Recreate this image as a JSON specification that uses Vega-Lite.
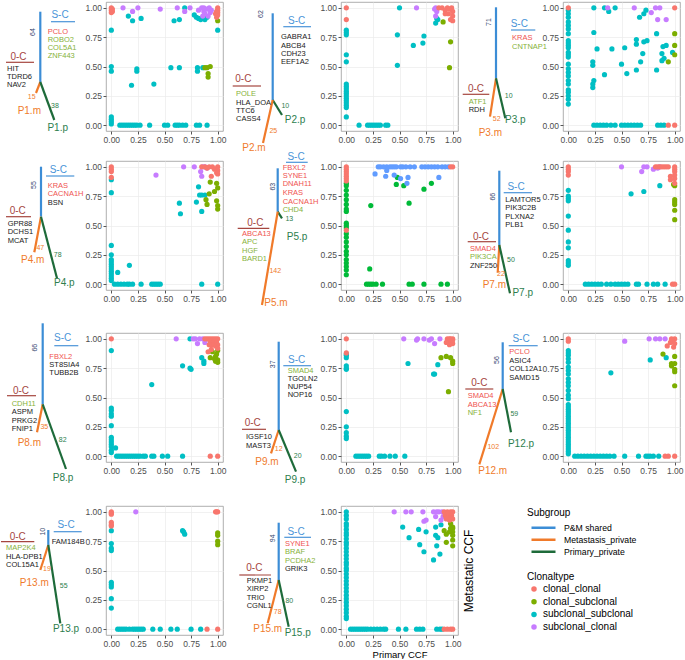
{
"$schema":"https://vega.github.io/schema/vega-lite/v6.json",
"padding":{"left":0,"top":1,"right":0,"bottom":0},
"autosize":{"type":"pad"},
"columns":6,"align":"each","bounds":"flush","spacing":{"row":30,"column":0},
"resolve":{"scale":{"fill":"independent","stroke":"independent"}},
"datasets":{
"pts":[
{"p":"P1","t":"subclonal_subclonal","x":0,"y":0.81},{"p":"P1","t":"subclonal_subclonal","x":0.16,"y":0.93},{"p":"P1","t":"subclonal_subclonal","x":0.2,"y":0.89},{"p":"P1","t":"subclonal_subclonal","x":0.28,"y":0.91},{"p":"P1","t":"subclonal_subclonal","x":0.59,"y":0.89},{"p":"P1","t":"subclonal_subclonal","x":0.64,"y":0.9},{"p":"P1","t":"subclonal_subclonal","x":0.69,"y":1},{"p":"P1","t":"subclonal_subclonal","x":0.78,"y":0.94},{"p":"P1","t":"subclonal_subclonal","x":0.8,"y":0.92},{"p":"P1","t":"subclonal_subclonal","x":0.82,"y":0.91},{"p":"P1","t":"subclonal_subclonal","x":0.84,"y":0.9},{"p":"P1","t":"subclonal_subclonal","x":0.88,"y":0.9},{"p":"P1","t":"subclonal_subclonal","x":0.86,"y":0.92},{"p":"P1","t":"subclonal_subclonal","x":0.9,"y":0.92},{"p":"P1","t":"subclonal_subclonal","x":1,"y":0.81},{"p":"P1","t":"subclonal_subclonal","x":0,"y":0.5},{"p":"P1","t":"subclonal_subclonal","x":0,"y":0.46},{"p":"P1","t":"subclonal_subclonal","x":0.24,"y":0.48},{"p":"P1","t":"subclonal_subclonal","x":0.24,"y":0.46},{"p":"P1","t":"subclonal_subclonal","x":0.56,"y":0.49},{"p":"P1","t":"subclonal_subclonal","x":0.64,"y":0.49},{"p":"P1","t":"subclonal_subclonal","x":0.81,"y":0.49},{"p":"P1","t":"subclonal_subclonal","x":0.81,"y":0.46},{"p":"P1","t":"subclonal_subclonal","x":0.86,"y":0.49},{"p":"P1","t":"subclonal_subclonal","x":0.19,"y":0.34},{"p":"P1","t":"subclonal_subclonal","x":0.4,"y":0.35},{"p":"P1","t":"subclonal_subclonal","x":0,"y":0.07},{"p":"P1","t":"subclonal_subclonal","x":0,"y":0.05},{"p":"P1","t":"subclonal_subclonal","x":0,"y":0.03},{"p":"P1","t":"subclonal_subclonal","x":0,"y":0.01},{"p":"P1","t":"subclonal_subclonal","x":0.08,"y":0},{"p":"P1","t":"subclonal_subclonal","x":0.1,"y":0},{"p":"P1","t":"subclonal_subclonal","x":0.12,"y":0},{"p":"P1","t":"subclonal_subclonal","x":0.14,"y":0},{"p":"P1","t":"subclonal_subclonal","x":0.16,"y":0},{"p":"P1","t":"subclonal_subclonal","x":0.18,"y":0},{"p":"P1","t":"subclonal_subclonal","x":0.2,"y":0},{"p":"P1","t":"subclonal_subclonal","x":0.22,"y":0},{"p":"P1","t":"subclonal_subclonal","x":0.24,"y":0},{"p":"P1","t":"subclonal_subclonal","x":0.27,"y":0},{"p":"P1","t":"subclonal_subclonal","x":0.36,"y":0},{"p":"P1","t":"subclonal_subclonal","x":0.5,"y":0},{"p":"P1","t":"subclonal_subclonal","x":0.53,"y":0},{"p":"P1","t":"subclonal_subclonal","x":0.6,"y":0},{"p":"P1","t":"subclonal_subclonal","x":0.62,"y":0},{"p":"P1","t":"subclonal_subclonal","x":0.64,"y":0},{"p":"P1","t":"subclonal_subclonal","x":0.67,"y":0},{"p":"P1","t":"subclonal_subclonal","x":0.7,"y":0},{"p":"P1","t":"subclonal_subclonal","x":0.8,"y":0},{"p":"P1","t":"subclonal_subclonal","x":0.83,"y":0},{"p":"P1","t":"subclonal_subclonal","x":0.9,"y":0},
{"p":"P1","t":"subclonal_clonal","x":0.11,"y":1},{"p":"P1","t":"subclonal_clonal","x":0.2,"y":0.97},{"p":"P1","t":"subclonal_clonal","x":0.25,"y":1},{"p":"P1","t":"subclonal_clonal","x":0.46,"y":0.99},{"p":"P1","t":"subclonal_clonal","x":0.62,"y":1},{"p":"P1","t":"subclonal_clonal","x":0.69,"y":0.97},{"p":"P1","t":"subclonal_clonal","x":0.74,"y":1},{"p":"P1","t":"subclonal_clonal","x":0.82,"y":0.98},{"p":"P1","t":"subclonal_clonal","x":0.85,"y":1},{"p":"P1","t":"subclonal_clonal","x":0.87,"y":0.97},{"p":"P1","t":"subclonal_clonal","x":0.88,"y":0.95},{"p":"P1","t":"subclonal_clonal","x":0.9,"y":0.99},{"p":"P1","t":"subclonal_clonal","x":0.92,"y":1},{"p":"P1","t":"subclonal_clonal","x":0.93,"y":0.96},{"p":"P1","t":"subclonal_clonal","x":0.94,"y":0.98},{"p":"P1","t":"subclonal_clonal","x":0.91,"y":0.93},{"p":"P1","t":"subclonal_clonal","x":0.86,"y":0.93},{"p":"P1","t":"subclonal_clonal","x":0.87,"y":1},
{"p":"P1","t":"clonal_subclonal","x":1,"y":0.89},{"p":"P1","t":"clonal_subclonal","x":0.88,"y":0.49},{"p":"P1","t":"clonal_subclonal","x":0.9,"y":0.49},{"p":"P1","t":"clonal_subclonal","x":0.91,"y":0.44},{"p":"P1","t":"clonal_subclonal","x":0.91,"y":0.41},{"p":"P1","t":"clonal_subclonal","x":0.93,"y":0.5},
{"p":"P1","t":"clonal_clonal","x":0,"y":1},{"p":"P1","t":"clonal_clonal","x":0,"y":0.98},{"p":"P1","t":"clonal_clonal","x":0,"y":0.96},{"p":"P1","t":"clonal_clonal","x":0.01,"y":0.99},{"p":"P1","t":"clonal_clonal","x":0.01,"y":0.97},{"p":"P1","t":"clonal_clonal","x":1,"y":1},{"p":"P1","t":"clonal_clonal","x":1,"y":0.98},{"p":"P1","t":"clonal_clonal","x":1,"y":0.96},{"p":"P1","t":"clonal_clonal","x":1,"y":0.94},{"p":"P1","t":"clonal_clonal","x":0.99,"y":0.92},{"p":"P1","t":"clonal_clonal","x":0.98,"y":0.95},{"p":"P1","t":"clonal_clonal","x":0.99,"y":0.97},
{"p":"P2","t":"subclonal_subclonal","x":0.5,"y":1},{"p":"P2","t":"subclonal_subclonal","x":0,"y":0.81},{"p":"P2","t":"subclonal_subclonal","x":0,"y":0.79},{"p":"P2","t":"subclonal_subclonal","x":0,"y":0.77},{"p":"P2","t":"subclonal_subclonal","x":0,"y":0.6},{"p":"P2","t":"subclonal_subclonal","x":0,"y":0.54},{"p":"P2","t":"subclonal_subclonal","x":0,"y":0.35},{"p":"P2","t":"subclonal_subclonal","x":0,"y":0.33},{"p":"P2","t":"subclonal_subclonal","x":0,"y":0.31},{"p":"P2","t":"subclonal_subclonal","x":0,"y":0.29},{"p":"P2","t":"subclonal_subclonal","x":0,"y":0.27},{"p":"P2","t":"subclonal_subclonal","x":0,"y":0.25},{"p":"P2","t":"subclonal_subclonal","x":0,"y":0.23},{"p":"P2","t":"subclonal_subclonal","x":0,"y":0.21},{"p":"P2","t":"subclonal_subclonal","x":0,"y":0.19},{"p":"P2","t":"subclonal_subclonal","x":0,"y":0.17},{"p":"P2","t":"subclonal_subclonal","x":0,"y":0.15},{"p":"P2","t":"subclonal_subclonal","x":0,"y":0.07},{"p":"P2","t":"subclonal_subclonal","x":0.48,"y":0.77},{"p":"P2","t":"subclonal_subclonal","x":0.48,"y":0.51},{"p":"P2","t":"subclonal_subclonal","x":0.63,"y":0.68},{"p":"P2","t":"subclonal_subclonal","x":0.72,"y":0.7},{"p":"P2","t":"subclonal_subclonal","x":0.73,"y":0.76},{"p":"P2","t":"subclonal_subclonal","x":0.84,"y":0.87},{"p":"P2","t":"subclonal_subclonal","x":0.85,"y":0.91},{"p":"P2","t":"subclonal_subclonal","x":0.86,"y":0.9},{"p":"P2","t":"subclonal_subclonal","x":0.12,"y":0},{"p":"P2","t":"subclonal_subclonal","x":0.2,"y":0},{"p":"P2","t":"subclonal_subclonal","x":0.22,"y":0},{"p":"P2","t":"subclonal_subclonal","x":0.24,"y":0},{"p":"P2","t":"subclonal_subclonal","x":0.26,"y":0},{"p":"P2","t":"subclonal_subclonal","x":0.28,"y":0},{"p":"P2","t":"subclonal_subclonal","x":0.3,"y":0},{"p":"P2","t":"subclonal_subclonal","x":0.32,"y":0},{"p":"P2","t":"subclonal_subclonal","x":0.37,"y":0},{"p":"P2","t":"subclonal_subclonal","x":0.39,"y":0},
{"p":"P2","t":"subclonal_clonal","x":0.66,"y":1},{"p":"P2","t":"subclonal_clonal","x":0.83,"y":0.99},{"p":"P2","t":"subclonal_clonal","x":0.84,"y":1},{"p":"P2","t":"subclonal_clonal","x":0.84,"y":0.93},{"p":"P2","t":"subclonal_clonal","x":0.85,"y":0.97},
{"p":"P2","t":"clonal_subclonal","x":0.91,"y":0.88},{"p":"P2","t":"clonal_subclonal","x":0.98,"y":0.71},{"p":"P2","t":"clonal_subclonal","x":0.97,"y":0.49},
{"p":"P2","t":"clonal_clonal","x":0,"y":1},{"p":"P2","t":"clonal_clonal","x":0,"y":0.9},{"p":"P2","t":"clonal_clonal","x":0.87,"y":1},{"p":"P2","t":"clonal_clonal","x":0.9,"y":1},{"p":"P2","t":"clonal_clonal","x":0.93,"y":0.98},{"p":"P2","t":"clonal_clonal","x":0.95,"y":1},{"p":"P2","t":"clonal_clonal","x":0.97,"y":0.99},{"p":"P2","t":"clonal_clonal","x":0.99,"y":1},{"p":"P2","t":"clonal_clonal","x":1,"y":0.97},{"p":"P2","t":"clonal_clonal","x":0.96,"y":0.95},{"p":"P2","t":"clonal_clonal","x":1,"y":0.93},{"p":"P2","t":"clonal_clonal","x":0.98,"y":0.9},{"p":"P2","t":"clonal_clonal","x":0.93,"y":0.95},{"p":"P2","t":"clonal_clonal","x":1,"y":0.89},
{"p":"P3","t":"subclonal_subclonal","x":0,"y":0.98},{"p":"P3","t":"subclonal_subclonal","x":0,"y":0.95},{"p":"P3","t":"subclonal_subclonal","x":0,"y":0.92},{"p":"P3","t":"subclonal_subclonal","x":0,"y":0.88},{"p":"P3","t":"subclonal_subclonal","x":0,"y":0.85},{"p":"P3","t":"subclonal_subclonal","x":0,"y":0.82},{"p":"P3","t":"subclonal_subclonal","x":0,"y":0.78},{"p":"P3","t":"subclonal_subclonal","x":0,"y":0.72},{"p":"P3","t":"subclonal_subclonal","x":0,"y":0.7},{"p":"P3","t":"subclonal_subclonal","x":0,"y":0.68},{"p":"P3","t":"subclonal_subclonal","x":0,"y":0.66},{"p":"P3","t":"subclonal_subclonal","x":0,"y":0.62},{"p":"P3","t":"subclonal_subclonal","x":0,"y":0.6},{"p":"P3","t":"subclonal_subclonal","x":0,"y":0.58},{"p":"P3","t":"subclonal_subclonal","x":0,"y":0.52},{"p":"P3","t":"subclonal_subclonal","x":0,"y":0.48},{"p":"P3","t":"subclonal_subclonal","x":0,"y":0.45},{"p":"P3","t":"subclonal_subclonal","x":0,"y":0.42},{"p":"P3","t":"subclonal_subclonal","x":0,"y":0.38},{"p":"P3","t":"subclonal_subclonal","x":0,"y":0.35},{"p":"P3","t":"subclonal_subclonal","x":0,"y":0.3},{"p":"P3","t":"subclonal_subclonal","x":0,"y":0.28},{"p":"P3","t":"subclonal_subclonal","x":0,"y":0.25},{"p":"P3","t":"subclonal_subclonal","x":0,"y":0.22},{"p":"P3","t":"subclonal_subclonal","x":0,"y":0.18},
{"p":"P3","t":"subclonal_subclonal","x":0.24,"y":1},{"p":"P3","t":"subclonal_subclonal","x":0.34,"y":1},{"p":"P3","t":"subclonal_subclonal","x":0.38,"y":0.97},{"p":"P3","t":"subclonal_subclonal","x":0.44,"y":1},{"p":"P3","t":"subclonal_subclonal","x":0.24,"y":0.79},{"p":"P3","t":"subclonal_subclonal","x":0.27,"y":0.65},{"p":"P3","t":"subclonal_subclonal","x":0.41,"y":0.65},{"p":"P3","t":"subclonal_subclonal","x":0.23,"y":0.54},{"p":"P3","t":"subclonal_subclonal","x":0.23,"y":0.51},{"p":"P3","t":"subclonal_subclonal","x":0.24,"y":0.38},{"p":"P3","t":"subclonal_subclonal","x":0.23,"y":0.35},{"p":"P3","t":"subclonal_subclonal","x":0.23,"y":0.32},{"p":"P3","t":"subclonal_subclonal","x":0.34,"y":0.43},{"p":"P3","t":"subclonal_subclonal","x":0.5,"y":0.52},{"p":"P3","t":"subclonal_subclonal","x":0.53,"y":0.66},{"p":"P3","t":"subclonal_subclonal","x":0.55,"y":0.44},{"p":"P3","t":"subclonal_subclonal","x":0.64,"y":0.73},{"p":"P3","t":"subclonal_subclonal","x":0.64,"y":0.69},{"p":"P3","t":"subclonal_subclonal","x":0.64,"y":0.47},{"p":"P3","t":"subclonal_subclonal","x":0.68,"y":0.54},{"p":"P3","t":"subclonal_subclonal","x":0.7,"y":0.61},{"p":"P3","t":"subclonal_subclonal","x":0.71,"y":0.71},{"p":"P3","t":"subclonal_subclonal","x":0.74,"y":0.72},{"p":"P3","t":"subclonal_subclonal","x":0.67,"y":0.92},{"p":"P3","t":"subclonal_subclonal","x":0.71,"y":0.95},{"p":"P3","t":"subclonal_subclonal","x":0.73,"y":0.98},{"p":"P3","t":"subclonal_subclonal","x":0.83,"y":0.78},{"p":"P3","t":"subclonal_subclonal","x":0.83,"y":0.47},{"p":"P3","t":"subclonal_subclonal","x":0.88,"y":0.61},{"p":"P3","t":"subclonal_subclonal","x":0.89,"y":0.67},{"p":"P3","t":"subclonal_subclonal","x":0.92,"y":0.68},{"p":"P3","t":"subclonal_subclonal","x":0.88,"y":0.55},{"p":"P3","t":"subclonal_subclonal","x":0.9,"y":0.57},{"p":"P3","t":"subclonal_subclonal","x":0.98,"y":0.62},
{"p":"P3","t":"subclonal_subclonal","x":0.24,"y":0},{"p":"P3","t":"subclonal_subclonal","x":0.27,"y":0},{"p":"P3","t":"subclonal_subclonal","x":0.3,"y":0},{"p":"P3","t":"subclonal_subclonal","x":0.33,"y":0},{"p":"P3","t":"subclonal_subclonal","x":0.36,"y":0},{"p":"P3","t":"subclonal_subclonal","x":0.4,"y":0},{"p":"P3","t":"subclonal_subclonal","x":0.44,"y":0},{"p":"P3","t":"subclonal_subclonal","x":0.5,"y":0},{"p":"P3","t":"subclonal_subclonal","x":0.53,"y":0},{"p":"P3","t":"subclonal_subclonal","x":0.56,"y":0},{"p":"P3","t":"subclonal_subclonal","x":0.59,"y":0},{"p":"P3","t":"subclonal_subclonal","x":0.62,"y":0},{"p":"P3","t":"subclonal_subclonal","x":0.65,"y":0},{"p":"P3","t":"subclonal_subclonal","x":0.68,"y":0},{"p":"P3","t":"subclonal_subclonal","x":0.84,"y":0},{"p":"P3","t":"subclonal_subclonal","x":0.87,"y":0},{"p":"P3","t":"subclonal_subclonal","x":0.9,"y":0},
{"p":"P3","t":"subclonal_clonal","x":0.37,"y":1},{"p":"P3","t":"subclonal_clonal","x":0.62,"y":1},{"p":"P3","t":"subclonal_clonal","x":0.82,"y":1},{"p":"P3","t":"subclonal_clonal","x":0.86,"y":1},{"p":"P3","t":"subclonal_clonal","x":0.78,"y":0.96},{"p":"P3","t":"subclonal_clonal","x":0.84,"y":0.9},{"p":"P3","t":"subclonal_clonal","x":0.92,"y":0.9},
{"p":"P3","t":"clonal_subclonal","x":1,"y":0.78},{"p":"P3","t":"clonal_subclonal","x":1,"y":0.68},{"p":"P3","t":"clonal_subclonal","x":1,"y":0.6},{"p":"P3","t":"clonal_subclonal","x":0.94,"y":0.54},
{"p":"P3","t":"clonal_clonal","x":0,"y":1},{"p":"P3","t":"clonal_clonal","x":1,"y":1},{"p":"P3","t":"clonal_clonal","x":0.94,"y":0},{"p":"P3","t":"clonal_clonal","x":1,"y":0},
{"p":"P4","t":"subclonal_subclonal","x":0,"y":0.89},{"p":"P4","t":"subclonal_subclonal","x":0,"y":0.78},{"p":"P4","t":"subclonal_subclonal","x":0.82,"y":0.83},{"p":"P4","t":"subclonal_subclonal","x":0.83,"y":0.76},{"p":"P4","t":"subclonal_subclonal","x":0.85,"y":0.76},{"p":"P4","t":"subclonal_subclonal","x":0.88,"y":0.76},{"p":"P4","t":"subclonal_subclonal","x":0.8,"y":0.7},{"p":"P4","t":"subclonal_subclonal","x":0.64,"y":0.69},{"p":"P4","t":"subclonal_subclonal","x":0.65,"y":0.6},{"p":"P4","t":"subclonal_subclonal","x":0.85,"y":0.62},{"p":"P4","t":"subclonal_subclonal","x":0,"y":0.33},{"p":"P4","t":"subclonal_subclonal","x":0,"y":0.25},{"p":"P4","t":"subclonal_subclonal","x":0,"y":0.21},{"p":"P4","t":"subclonal_subclonal","x":0,"y":0.19},{"p":"P4","t":"subclonal_subclonal","x":0,"y":0.17},{"p":"P4","t":"subclonal_subclonal","x":0,"y":0.15},{"p":"P4","t":"subclonal_subclonal","x":0,"y":0.13},{"p":"P4","t":"subclonal_subclonal","x":0,"y":0.11},{"p":"P4","t":"subclonal_subclonal","x":0,"y":0.09},{"p":"P4","t":"subclonal_subclonal","x":0,"y":0.07},{"p":"P4","t":"subclonal_subclonal","x":0,"y":0.05},{"p":"P4","t":"subclonal_subclonal","x":0,"y":0.03},{"p":"P4","t":"subclonal_subclonal","x":0.06,"y":0.1},{"p":"P4","t":"subclonal_subclonal","x":0.17,"y":0.16},{"p":"P4","t":"subclonal_subclonal","x":0.03,"y":0},{"p":"P4","t":"subclonal_subclonal","x":0.06,"y":0},{"p":"P4","t":"subclonal_subclonal","x":0.09,"y":0},{"p":"P4","t":"subclonal_subclonal","x":0.12,"y":0},{"p":"P4","t":"subclonal_subclonal","x":0.15,"y":0},{"p":"P4","t":"subclonal_subclonal","x":0.17,"y":0},{"p":"P4","t":"subclonal_subclonal","x":0.2,"y":0},{"p":"P4","t":"subclonal_subclonal","x":0.28,"y":0},{"p":"P4","t":"subclonal_subclonal","x":0.38,"y":0},{"p":"P4","t":"subclonal_subclonal","x":0.4,"y":0},{"p":"P4","t":"subclonal_subclonal","x":0.42,"y":0},{"p":"P4","t":"subclonal_subclonal","x":0.44,"y":0},{"p":"P4","t":"subclonal_subclonal","x":0.46,"y":0},{"p":"P4","t":"subclonal_subclonal","x":0.85,"y":0},{"p":"P4","t":"subclonal_subclonal","x":1,"y":0},
{"p":"P4","t":"subclonal_clonal","x":0.42,"y":0.93},{"p":"P4","t":"subclonal_clonal","x":0.68,"y":1},{"p":"P4","t":"subclonal_clonal","x":0.78,"y":1},{"p":"P4","t":"subclonal_clonal","x":0.86,"y":1},{"p":"P4","t":"subclonal_clonal","x":0.88,"y":1},{"p":"P4","t":"subclonal_clonal","x":0.84,"y":0.96},{"p":"P4","t":"subclonal_clonal","x":0.85,"y":0.92},{"p":"P4","t":"subclonal_clonal","x":0.9,"y":0.99},
{"p":"P4","t":"clonal_subclonal","x":0.93,"y":0.87},{"p":"P4","t":"clonal_subclonal","x":0.99,"y":0.86},{"p":"P4","t":"clonal_subclonal","x":1,"y":0.82},{"p":"P4","t":"clonal_subclonal","x":0.99,"y":0.71},{"p":"P4","t":"clonal_subclonal","x":0.97,"y":0.79},{"p":"P4","t":"clonal_subclonal","x":0.92,"y":0.77},{"p":"P4","t":"clonal_subclonal","x":0.89,"y":0.72},{"p":"P4","t":"clonal_subclonal","x":0.9,"y":0.68},{"p":"P4","t":"clonal_subclonal","x":1,"y":0.67},{"p":"P4","t":"clonal_subclonal","x":1,"y":0.64},
{"p":"P4","t":"clonal_clonal","x":0,"y":1},{"p":"P4","t":"clonal_clonal","x":0,"y":0.98},{"p":"P4","t":"clonal_clonal","x":0,"y":0.96},{"p":"P4","t":"clonal_clonal","x":0,"y":0.91},{"p":"P4","t":"clonal_clonal","x":0.85,"y":1},{"p":"P4","t":"clonal_clonal","x":0.88,"y":1},{"p":"P4","t":"clonal_clonal","x":0.9,"y":0.99},{"p":"P4","t":"clonal_clonal","x":0.92,"y":1},{"p":"P4","t":"clonal_clonal","x":0.95,"y":1},{"p":"P4","t":"clonal_clonal","x":0.97,"y":0.98},{"p":"P4","t":"clonal_clonal","x":1,"y":1},{"p":"P4","t":"clonal_clonal","x":1,"y":0.97},{"p":"P4","t":"clonal_clonal","x":1,"y":0.94},{"p":"P4","t":"clonal_clonal","x":0.99,"y":0.95},{"p":"P4","t":"clonal_clonal","x":0.94,"y":0.92},
{"p":"P5","t":"subclonal_subclonal","x":0,"y":0.86},{"p":"P5","t":"subclonal_subclonal","x":0,"y":0.84},{"p":"P5","t":"subclonal_subclonal","x":0,"y":0.8},{"p":"P5","t":"subclonal_subclonal","x":0,"y":0.76},{"p":"P5","t":"subclonal_subclonal","x":0,"y":0.72},{"p":"P5","t":"subclonal_subclonal","x":0,"y":0.68},{"p":"P5","t":"subclonal_subclonal","x":0,"y":0.64},{"p":"P5","t":"subclonal_subclonal","x":0,"y":0.62},{"p":"P5","t":"subclonal_subclonal","x":0,"y":0.52},{"p":"P5","t":"subclonal_subclonal","x":0,"y":0.5},{"p":"P5","t":"subclonal_subclonal","x":0,"y":0.48},{"p":"P5","t":"subclonal_subclonal","x":0,"y":0.43},{"p":"P5","t":"subclonal_subclonal","x":0,"y":0.4},{"p":"P5","t":"subclonal_subclonal","x":0,"y":0.36},{"p":"P5","t":"subclonal_subclonal","x":0,"y":0.32},{"p":"P5","t":"subclonal_subclonal","x":0,"y":0.28},{"p":"P5","t":"subclonal_subclonal","x":0,"y":0.25},{"p":"P5","t":"subclonal_subclonal","x":0,"y":0.21},{"p":"P5","t":"subclonal_subclonal","x":0,"y":0.18},{"p":"P5","t":"subclonal_subclonal","x":0,"y":0.15},{"p":"P5","t":"subclonal_subclonal","x":0,"y":0.12},{"p":"P5","t":"subclonal_subclonal","x":0,"y":0.08},{"p":"P5","t":"subclonal_subclonal","x":0.23,"y":0.67},{"p":"P5","t":"subclonal_subclonal","x":0.22,"y":0.13},{"p":"P5","t":"subclonal_subclonal","x":0.48,"y":0.91},{"p":"P5","t":"subclonal_subclonal","x":0.47,"y":0.85},{"p":"P5","t":"subclonal_subclonal","x":0.54,"y":0.84},{"p":"P5","t":"subclonal_subclonal","x":0.59,"y":0.69},{"p":"P5","t":"subclonal_subclonal","x":0.73,"y":0.81},{"p":"P5","t":"subclonal_subclonal","x":0.8,"y":0.86},{"p":"P5","t":"subclonal_subclonal","x":0.19,"y":0},{"p":"P5","t":"subclonal_subclonal","x":0.21,"y":0},{"p":"P5","t":"subclonal_subclonal","x":0.23,"y":0},{"p":"P5","t":"subclonal_subclonal","x":0.25,"y":0},{"p":"P5","t":"subclonal_subclonal","x":0.28,"y":0},{"p":"P5","t":"subclonal_subclonal","x":0.34,"y":0},{"p":"P5","t":"subclonal_subclonal","x":0.59,"y":0},{"p":"P5","t":"subclonal_subclonal","x":0.62,"y":0},{"p":"P5","t":"subclonal_subclonal","x":0.73,"y":0},{"p":"P5","t":"subclonal_subclonal","x":0.89,"y":0},{"p":"P5","t":"subclonal_subclonal","x":0.95,"y":0},
{"p":"P5","t":"subclonal_clonal","x":0.3,"y":1},{"p":"P5","t":"subclonal_clonal","x":0.32,"y":1},{"p":"P5","t":"subclonal_clonal","x":0.35,"y":1},{"p":"P5","t":"subclonal_clonal","x":0.38,"y":1},{"p":"P5","t":"subclonal_clonal","x":0.41,"y":1},{"p":"P5","t":"subclonal_clonal","x":0.43,"y":1},{"p":"P5","t":"subclonal_clonal","x":0.45,"y":1},{"p":"P5","t":"subclonal_clonal","x":0.47,"y":1},{"p":"P5","t":"subclonal_clonal","x":0.51,"y":1},{"p":"P5","t":"subclonal_clonal","x":0.53,"y":1},{"p":"P5","t":"subclonal_clonal","x":0.56,"y":1},{"p":"P5","t":"subclonal_clonal","x":0.6,"y":1},{"p":"P5","t":"subclonal_clonal","x":0.64,"y":1},{"p":"P5","t":"subclonal_clonal","x":0.71,"y":1},{"p":"P5","t":"subclonal_clonal","x":0.74,"y":1},{"p":"P5","t":"subclonal_clonal","x":0.77,"y":1},{"p":"P5","t":"subclonal_clonal","x":0.8,"y":1},{"p":"P5","t":"subclonal_clonal","x":0.83,"y":1},{"p":"P5","t":"subclonal_clonal","x":0.86,"y":1},{"p":"P5","t":"subclonal_clonal","x":0.9,"y":1},{"p":"P5","t":"subclonal_clonal","x":0.93,"y":1},{"p":"P5","t":"subclonal_clonal","x":0.96,"y":1},{"p":"P5","t":"subclonal_clonal","x":0.27,"y":0.94},{"p":"P5","t":"subclonal_clonal","x":0.37,"y":0.92},{"p":"P5","t":"subclonal_clonal","x":0.38,"y":0.97},{"p":"P5","t":"subclonal_clonal","x":0.45,"y":0.93},{"p":"P5","t":"subclonal_clonal","x":0.51,"y":0.9},{"p":"P5","t":"subclonal_clonal","x":0.58,"y":0.91},{"p":"P5","t":"subclonal_clonal","x":0.57,"y":0.86},{"p":"P5","t":"subclonal_clonal","x":0.87,"y":0.91},
{"p":"P5","t":"clonal_clonal","x":0,"y":1},{"p":"P5","t":"clonal_clonal","x":0,"y":0.98},{"p":"P5","t":"clonal_clonal","x":0,"y":0.96},{"p":"P5","t":"clonal_clonal","x":0,"y":0.94},{"p":"P5","t":"clonal_clonal","x":0,"y":0.92},{"p":"P5","t":"clonal_clonal","x":0,"y":0.9},{"p":"P5","t":"clonal_clonal","x":0,"y":0.88},{"p":"P5","t":"clonal_clonal","x":0,"y":0.46},{"p":"P5","t":"clonal_clonal","x":1,"y":1},{"p":"P5","t":"clonal_clonal","x":0.98,"y":1},
{"p":"P7","t":"subclonal_subclonal","x":0,"y":0.8},{"p":"P7","t":"subclonal_subclonal","x":0,"y":0.75},{"p":"P7","t":"subclonal_subclonal","x":0,"y":0.73},{"p":"P7","t":"subclonal_subclonal","x":0,"y":0.71},{"p":"P7","t":"subclonal_subclonal","x":0,"y":0.58},{"p":"P7","t":"subclonal_subclonal","x":0,"y":0.46},{"p":"P7","t":"subclonal_subclonal","x":0,"y":0.36},{"p":"P7","t":"subclonal_subclonal","x":0,"y":0.31},{"p":"P7","t":"subclonal_subclonal","x":0,"y":0.2},{"p":"P7","t":"subclonal_subclonal","x":0,"y":0.18},{"p":"P7","t":"subclonal_subclonal","x":0,"y":0.16},{"p":"P7","t":"subclonal_subclonal","x":0.59,"y":0.77},{"p":"P7","t":"subclonal_subclonal","x":0.71,"y":0.79},{"p":"P7","t":"subclonal_subclonal","x":0.86,"y":0.84},{"p":"P7","t":"subclonal_subclonal","x":0.16,"y":0},{"p":"P7","t":"subclonal_subclonal","x":0.19,"y":0},{"p":"P7","t":"subclonal_subclonal","x":0.22,"y":0},{"p":"P7","t":"subclonal_subclonal","x":0.25,"y":0},{"p":"P7","t":"subclonal_subclonal","x":0.28,"y":0},{"p":"P7","t":"subclonal_subclonal","x":0.31,"y":0},{"p":"P7","t":"subclonal_subclonal","x":0.36,"y":0},{"p":"P7","t":"subclonal_subclonal","x":0.4,"y":0},{"p":"P7","t":"subclonal_subclonal","x":0.44,"y":0},{"p":"P7","t":"subclonal_subclonal","x":0.47,"y":0},{"p":"P7","t":"subclonal_subclonal","x":0.5,"y":0},{"p":"P7","t":"subclonal_subclonal","x":0.53,"y":0},{"p":"P7","t":"subclonal_subclonal","x":0.56,"y":0},{"p":"P7","t":"subclonal_subclonal","x":0.64,"y":0},{"p":"P7","t":"subclonal_subclonal","x":0.66,"y":0},{"p":"P7","t":"subclonal_subclonal","x":0.74,"y":0},{"p":"P7","t":"subclonal_subclonal","x":0.8,"y":0},{"p":"P7","t":"subclonal_subclonal","x":0.84,"y":0},{"p":"P7","t":"subclonal_subclonal","x":0.91,"y":0},
{"p":"P7","t":"subclonal_clonal","x":0.5,"y":1},{"p":"P7","t":"subclonal_clonal","x":0.71,"y":1},{"p":"P7","t":"subclonal_clonal","x":0.74,"y":1},{"p":"P7","t":"subclonal_clonal","x":0.69,"y":0.96},{"p":"P7","t":"subclonal_clonal","x":0.8,"y":0.98},{"p":"P7","t":"subclonal_clonal","x":0.84,"y":0.99},{"p":"P7","t":"subclonal_clonal","x":0.86,"y":1},
{"p":"P7","t":"clonal_subclonal","x":0.99,"y":0.85},{"p":"P7","t":"clonal_subclonal","x":1,"y":0.84},{"p":"P7","t":"clonal_subclonal","x":1,"y":0.72},{"p":"P7","t":"clonal_subclonal","x":1,"y":0.7},{"p":"P7","t":"clonal_subclonal","x":1,"y":0.68},{"p":"P7","t":"clonal_subclonal","x":1,"y":0.63},{"p":"P7","t":"clonal_subclonal","x":1,"y":0.55},
{"p":"P7","t":"clonal_clonal","x":0,"y":1},{"p":"P7","t":"clonal_clonal","x":0,"y":0.98},{"p":"P7","t":"clonal_clonal","x":0,"y":0.96},{"p":"P7","t":"clonal_clonal","x":0,"y":0.93},{"p":"P7","t":"clonal_clonal","x":0.82,"y":1},{"p":"P7","t":"clonal_clonal","x":0.84,"y":1},{"p":"P7","t":"clonal_clonal","x":0.86,"y":1},{"p":"P7","t":"clonal_clonal","x":0.88,"y":1},{"p":"P7","t":"clonal_clonal","x":0.9,"y":1},{"p":"P7","t":"clonal_clonal","x":0.92,"y":1},{"p":"P7","t":"clonal_clonal","x":0.94,"y":1},{"p":"P7","t":"clonal_clonal","x":1,"y":1},{"p":"P7","t":"clonal_clonal","x":1,"y":0.98},{"p":"P7","t":"clonal_clonal","x":1,"y":0.96},{"p":"P7","t":"clonal_clonal","x":1,"y":0.93},{"p":"P7","t":"clonal_clonal","x":1,"y":0.9},{"p":"P7","t":"clonal_clonal","x":0.96,"y":0.92},{"p":"P7","t":"clonal_clonal","x":0.96,"y":0.89},{"p":"P7","t":"clonal_clonal","x":1,"y":0.86},{"p":"P7","t":"clonal_clonal","x":0.98,"y":0},{"p":"P7","t":"clonal_clonal","x":1,"y":0},
{"p":"P8","t":"subclonal_subclonal","x":0,"y":0.9},{"p":"P8","t":"subclonal_subclonal","x":0.74,"y":1},{"p":"P8","t":"subclonal_subclonal","x":0.67,"y":0.77},{"p":"P8","t":"subclonal_subclonal","x":0.74,"y":0.75},{"p":"P8","t":"subclonal_subclonal","x":0.75,"y":0.74},{"p":"P8","t":"subclonal_subclonal","x":0.85,"y":0.84},{"p":"P8","t":"subclonal_subclonal","x":0.87,"y":0.79},{"p":"P8","t":"subclonal_subclonal","x":0.87,"y":0.81},{"p":"P8","t":"subclonal_subclonal","x":0.38,"y":0.61},{"p":"P8","t":"subclonal_subclonal","x":0,"y":0.41},{"p":"P8","t":"subclonal_subclonal","x":0,"y":0.39},{"p":"P8","t":"subclonal_subclonal","x":0,"y":0.36},{"p":"P8","t":"subclonal_subclonal","x":0,"y":0.34},{"p":"P8","t":"subclonal_subclonal","x":0,"y":0.26},{"p":"P8","t":"subclonal_subclonal","x":0,"y":0.16},{"p":"P8","t":"subclonal_subclonal","x":0,"y":0.14},{"p":"P8","t":"subclonal_subclonal","x":0,"y":0.12},{"p":"P8","t":"subclonal_subclonal","x":0,"y":0.1},{"p":"P8","t":"subclonal_subclonal","x":0,"y":0.08},{"p":"P8","t":"subclonal_subclonal","x":0,"y":0.05},{"p":"P8","t":"subclonal_subclonal","x":0,"y":0.03},{"p":"P8","t":"subclonal_subclonal","x":0.04,"y":0.07},{"p":"P8","t":"subclonal_subclonal","x":0.05,"y":0},{"p":"P8","t":"subclonal_subclonal","x":0.07,"y":0},{"p":"P8","t":"subclonal_subclonal","x":0.09,"y":0},{"p":"P8","t":"subclonal_subclonal","x":0.11,"y":0},{"p":"P8","t":"subclonal_subclonal","x":0.13,"y":0},{"p":"P8","t":"subclonal_subclonal","x":0.15,"y":0},{"p":"P8","t":"subclonal_subclonal","x":0.17,"y":0},{"p":"P8","t":"subclonal_subclonal","x":0.19,"y":0},{"p":"P8","t":"subclonal_subclonal","x":0.21,"y":0},{"p":"P8","t":"subclonal_subclonal","x":0.23,"y":0},{"p":"P8","t":"subclonal_subclonal","x":0.25,"y":0},{"p":"P8","t":"subclonal_subclonal","x":0.27,"y":0},{"p":"P8","t":"subclonal_subclonal","x":0.3,"y":0},{"p":"P8","t":"subclonal_subclonal","x":0.32,"y":0},{"p":"P8","t":"subclonal_subclonal","x":0.38,"y":0},{"p":"P8","t":"subclonal_subclonal","x":0.4,"y":0},{"p":"P8","t":"subclonal_subclonal","x":0.48,"y":0},{"p":"P8","t":"subclonal_subclonal","x":0.53,"y":0},{"p":"P8","t":"subclonal_subclonal","x":0.67,"y":0},
{"p":"P8","t":"subclonal_clonal","x":0.61,"y":1},{"p":"P8","t":"subclonal_clonal","x":0.77,"y":1},{"p":"P8","t":"subclonal_clonal","x":0.79,"y":1},{"p":"P8","t":"subclonal_clonal","x":0.83,"y":1},{"p":"P8","t":"subclonal_clonal","x":0.86,"y":1},{"p":"P8","t":"subclonal_clonal","x":0.81,"y":0.96},{"p":"P8","t":"subclonal_clonal","x":0.88,"y":0.97},
{"p":"P8","t":"clonal_subclonal","x":0.95,"y":0.89},{"p":"P8","t":"clonal_subclonal","x":0.93,"y":0.84},{"p":"P8","t":"clonal_subclonal","x":1,"y":0.9},{"p":"P8","t":"clonal_subclonal","x":0.99,"y":0.87},{"p":"P8","t":"clonal_subclonal","x":0.98,"y":0.85},{"p":"P8","t":"clonal_subclonal","x":1,"y":0.82},{"p":"P8","t":"clonal_subclonal","x":1,"y":0.8},{"p":"P8","t":"clonal_subclonal","x":0.98,"y":0.81},{"p":"P8","t":"clonal_subclonal","x":0.97,"y":0.83},
{"p":"P8","t":"clonal_clonal","x":0,"y":1},{"p":"P8","t":"clonal_clonal","x":0.88,"y":1},{"p":"P8","t":"clonal_clonal","x":0.9,"y":1},{"p":"P8","t":"clonal_clonal","x":0.92,"y":1},{"p":"P8","t":"clonal_clonal","x":0.94,"y":1},{"p":"P8","t":"clonal_clonal","x":0.96,"y":1},{"p":"P8","t":"clonal_clonal","x":0.98,"y":1},{"p":"P8","t":"clonal_clonal","x":1,"y":1},{"p":"P8","t":"clonal_clonal","x":0.93,"y":0.98},{"p":"P8","t":"clonal_clonal","x":0.96,"y":0.97},{"p":"P8","t":"clonal_clonal","x":0.99,"y":0.97},{"p":"P8","t":"clonal_clonal","x":0.95,"y":0.95},{"p":"P8","t":"clonal_clonal","x":0.98,"y":0.94},{"p":"P8","t":"clonal_clonal","x":1,"y":0.95},{"p":"P8","t":"clonal_clonal","x":0.92,"y":0.95},{"p":"P8","t":"clonal_clonal","x":0.94,"y":0.91},{"p":"P8","t":"clonal_clonal","x":1,"y":0.92},{"p":"P8","t":"clonal_clonal","x":0.91,"y":0.89},{"p":"P8","t":"clonal_clonal","x":0.93,"y":0},{"p":"P8","t":"clonal_clonal","x":1,"y":0},
{"p":"P9","t":"subclonal_subclonal","x":0,"y":0.87},{"p":"P9","t":"subclonal_subclonal","x":0,"y":0.86},{"p":"P9","t":"subclonal_subclonal","x":0,"y":0.84},{"p":"P9","t":"subclonal_subclonal","x":0,"y":0.77},{"p":"P9","t":"subclonal_subclonal","x":0,"y":0.75},{"p":"P9","t":"subclonal_subclonal","x":0,"y":0.74},{"p":"P9","t":"subclonal_subclonal","x":0,"y":0.38},{"p":"P9","t":"subclonal_subclonal","x":0,"y":0.25},{"p":"P9","t":"subclonal_subclonal","x":0,"y":0.2},{"p":"P9","t":"subclonal_subclonal","x":0,"y":0.17},{"p":"P9","t":"subclonal_subclonal","x":0,"y":0.15},{"p":"P9","t":"subclonal_subclonal","x":0.58,"y":0.79},{"p":"P9","t":"subclonal_subclonal","x":0.82,"y":0.7},{"p":"P9","t":"subclonal_subclonal","x":0.83,"y":0.7},{"p":"P9","t":"subclonal_subclonal","x":0.86,"y":0.78},{"p":"P9","t":"subclonal_subclonal","x":0.09,"y":0},{"p":"P9","t":"subclonal_subclonal","x":0.11,"y":0},{"p":"P9","t":"subclonal_subclonal","x":0.13,"y":0},{"p":"P9","t":"subclonal_subclonal","x":0.15,"y":0},{"p":"P9","t":"subclonal_subclonal","x":0.17,"y":0},{"p":"P9","t":"subclonal_subclonal","x":0.19,"y":0},{"p":"P9","t":"subclonal_subclonal","x":0.21,"y":0},{"p":"P9","t":"subclonal_subclonal","x":0.31,"y":0},{"p":"P9","t":"subclonal_subclonal","x":0.33,"y":0},{"p":"P9","t":"subclonal_subclonal","x":0.36,"y":0},{"p":"P9","t":"subclonal_subclonal","x":0.41,"y":0},{"p":"P9","t":"subclonal_subclonal","x":0.46,"y":0},{"p":"P9","t":"subclonal_subclonal","x":0.55,"y":0},
{"p":"P9","t":"subclonal_clonal","x":0.54,"y":1},{"p":"P9","t":"subclonal_clonal","x":0.66,"y":0.99},{"p":"P9","t":"subclonal_clonal","x":0.67,"y":1},{"p":"P9","t":"subclonal_clonal","x":0.73,"y":1},{"p":"P9","t":"subclonal_clonal","x":0.78,"y":0.99},{"p":"P9","t":"subclonal_clonal","x":0.8,"y":1},{"p":"P9","t":"subclonal_clonal","x":0.83,"y":0.96},{"p":"P9","t":"subclonal_clonal","x":0.88,"y":1},
{"p":"P9","t":"clonal_subclonal","x":0.89,"y":0.84},{"p":"P9","t":"clonal_subclonal","x":0.94,"y":0.85},{"p":"P9","t":"clonal_subclonal","x":0.98,"y":0.84},{"p":"P9","t":"clonal_subclonal","x":1,"y":0.81},{"p":"P9","t":"clonal_subclonal","x":1,"y":0.79},{"p":"P9","t":"clonal_subclonal","x":0.96,"y":0.55},
{"p":"P9","t":"clonal_clonal","x":0,"y":1},{"p":"P9","t":"clonal_clonal","x":0,"y":0.88},{"p":"P9","t":"clonal_clonal","x":0.95,"y":1},{"p":"P9","t":"clonal_clonal","x":0.97,"y":1},{"p":"P9","t":"clonal_clonal","x":1,"y":1},{"p":"P9","t":"clonal_clonal","x":0.96,"y":0.98},{"p":"P9","t":"clonal_clonal","x":0.99,"y":0.98},{"p":"P9","t":"clonal_clonal","x":1,"y":0.96},{"p":"P9","t":"clonal_clonal","x":0.97,"y":0.95},{"p":"P9","t":"clonal_clonal","x":0.94,"y":0.97},{"p":"P9","t":"clonal_clonal","x":1,"y":0.99},{"p":"P9","t":"clonal_clonal","x":0.98,"y":1},
{"p":"P12","t":"subclonal_subclonal","x":0,"y":0.9},{"p":"P12","t":"subclonal_subclonal","x":0,"y":0.88},{"p":"P12","t":"subclonal_subclonal","x":0,"y":0.86},{"p":"P12","t":"subclonal_subclonal","x":0,"y":0.83},{"p":"P12","t":"subclonal_subclonal","x":0,"y":0.8},{"p":"P12","t":"subclonal_subclonal","x":0,"y":0.76},{"p":"P12","t":"subclonal_subclonal","x":0,"y":0.73},{"p":"P12","t":"subclonal_subclonal","x":0,"y":0.7},{"p":"P12","t":"subclonal_subclonal","x":0,"y":0.66},{"p":"P12","t":"subclonal_subclonal","x":0,"y":0.63},{"p":"P12","t":"subclonal_subclonal","x":0,"y":0.6},{"p":"P12","t":"subclonal_subclonal","x":0,"y":0.56},{"p":"P12","t":"subclonal_subclonal","x":0,"y":0.52},{"p":"P12","t":"subclonal_subclonal","x":0,"y":0.49},{"p":"P12","t":"subclonal_subclonal","x":0,"y":0.44},{"p":"P12","t":"subclonal_subclonal","x":0,"y":0.42},{"p":"P12","t":"subclonal_subclonal","x":0,"y":0.4},{"p":"P12","t":"subclonal_subclonal","x":0,"y":0.38},{"p":"P12","t":"subclonal_subclonal","x":0,"y":0.36},{"p":"P12","t":"subclonal_subclonal","x":0,"y":0.34},{"p":"P12","t":"subclonal_subclonal","x":0,"y":0.32},{"p":"P12","t":"subclonal_subclonal","x":0,"y":0.3},{"p":"P12","t":"subclonal_subclonal","x":0,"y":0.28},{"p":"P12","t":"subclonal_subclonal","x":0,"y":0.26},{"p":"P12","t":"subclonal_subclonal","x":0,"y":0.24},{"p":"P12","t":"subclonal_subclonal","x":0,"y":0.22},{"p":"P12","t":"subclonal_subclonal","x":0,"y":0.2},{"p":"P12","t":"subclonal_subclonal","x":0,"y":0.18},{"p":"P12","t":"subclonal_subclonal","x":0,"y":0.16},{"p":"P12","t":"subclonal_subclonal","x":0,"y":0.14},{"p":"P12","t":"subclonal_subclonal","x":0,"y":0.12},{"p":"P12","t":"subclonal_subclonal","x":0,"y":0.1},{"p":"P12","t":"subclonal_subclonal","x":0,"y":0.08},{"p":"P12","t":"subclonal_subclonal","x":0,"y":0.06},{"p":"P12","t":"subclonal_subclonal","x":0,"y":0.04},{"p":"P12","t":"subclonal_subclonal","x":0,"y":0.02},{"p":"P12","t":"subclonal_subclonal","x":0.4,"y":0.71},{"p":"P12","t":"subclonal_subclonal","x":0.77,"y":0.82},{"p":"P12","t":"subclonal_subclonal","x":0.92,"y":0.84},{"p":"P12","t":"subclonal_subclonal","x":0.06,"y":0},{"p":"P12","t":"subclonal_subclonal","x":0.09,"y":0},{"p":"P12","t":"subclonal_subclonal","x":0.12,"y":0},{"p":"P12","t":"subclonal_subclonal","x":0.15,"y":0},{"p":"P12","t":"subclonal_subclonal","x":0.18,"y":0},{"p":"P12","t":"subclonal_subclonal","x":0.21,"y":0},{"p":"P12","t":"subclonal_subclonal","x":0.24,"y":0},{"p":"P12","t":"subclonal_subclonal","x":0.27,"y":0},{"p":"P12","t":"subclonal_subclonal","x":0.3,"y":0},{"p":"P12","t":"subclonal_subclonal","x":0.33,"y":0},{"p":"P12","t":"subclonal_subclonal","x":0.36,"y":0},{"p":"P12","t":"subclonal_subclonal","x":0.39,"y":0},{"p":"P12","t":"subclonal_subclonal","x":0.43,"y":0},{"p":"P12","t":"subclonal_subclonal","x":0.53,"y":0},{"p":"P12","t":"subclonal_subclonal","x":0.66,"y":0},{"p":"P12","t":"subclonal_subclonal","x":0.73,"y":0},{"p":"P12","t":"subclonal_subclonal","x":0.75,"y":0},{"p":"P12","t":"subclonal_subclonal","x":0.77,"y":0},{"p":"P12","t":"subclonal_subclonal","x":0.8,"y":0},{"p":"P12","t":"subclonal_subclonal","x":0.85,"y":0},
{"p":"P12","t":"subclonal_clonal","x":0.53,"y":0.98},{"p":"P12","t":"subclonal_clonal","x":0.76,"y":1},{"p":"P12","t":"subclonal_clonal","x":0.82,"y":1},{"p":"P12","t":"subclonal_clonal","x":0.86,"y":1},{"p":"P12","t":"subclonal_clonal","x":0.91,"y":1},
{"p":"P12","t":"clonal_subclonal","x":0.89,"y":0.87},{"p":"P12","t":"clonal_subclonal","x":1,"y":0.85},{"p":"P12","t":"clonal_subclonal","x":1,"y":0.79},{"p":"P12","t":"clonal_subclonal","x":0.97,"y":0.77},{"p":"P12","t":"clonal_subclonal","x":1,"y":0.74},{"p":"P12","t":"clonal_subclonal","x":1,"y":0.72},{"p":"P12","t":"clonal_subclonal","x":1,"y":0.6},{"p":"P12","t":"clonal_subclonal","x":0.97,"y":0.79},
{"p":"P12","t":"clonal_clonal","x":0,"y":1},{"p":"P12","t":"clonal_clonal","x":0,"y":0.98},{"p":"P12","t":"clonal_clonal","x":1,"y":1},{"p":"P12","t":"clonal_clonal","x":0.98,"y":0.98},{"p":"P12","t":"clonal_clonal","x":0.96,"y":0.97},{"p":"P12","t":"clonal_clonal","x":1,"y":0.96},{"p":"P12","t":"clonal_clonal","x":0.93,"y":0.94},{"p":"P12","t":"clonal_clonal","x":0.99,"y":0.93},{"p":"P12","t":"clonal_clonal","x":0.97,"y":1},{"p":"P12","t":"clonal_clonal","x":0.91,"y":0},{"p":"P12","t":"clonal_clonal","x":0.94,"y":0},{"p":"P12","t":"clonal_clonal","x":1,"y":0},
{"p":"P13","t":"subclonal_subclonal","x":0,"y":0.84},{"p":"P13","t":"subclonal_subclonal","x":0,"y":0.73},{"p":"P13","t":"subclonal_subclonal","x":0,"y":0.69},{"p":"P13","t":"subclonal_subclonal","x":0,"y":0.67},{"p":"P13","t":"subclonal_subclonal","x":0,"y":0.4},{"p":"P13","t":"subclonal_subclonal","x":0,"y":0.38},{"p":"P13","t":"subclonal_subclonal","x":0,"y":0.36},{"p":"P13","t":"subclonal_subclonal","x":0,"y":0.26},{"p":"P13","t":"subclonal_subclonal","x":0,"y":0.18},{"p":"P13","t":"subclonal_subclonal","x":0.67,"y":0.84},{"p":"P13","t":"subclonal_subclonal","x":0.68,"y":0.83},{"p":"P13","t":"subclonal_subclonal","x":0.69,"y":0.81},{"p":"P13","t":"subclonal_subclonal","x":0.06,"y":0},{"p":"P13","t":"subclonal_subclonal","x":0.08,"y":0},{"p":"P13","t":"subclonal_subclonal","x":0.1,"y":0},{"p":"P13","t":"subclonal_subclonal","x":0.12,"y":0},{"p":"P13","t":"subclonal_subclonal","x":0.14,"y":0},{"p":"P13","t":"subclonal_subclonal","x":0.17,"y":0},{"p":"P13","t":"subclonal_subclonal","x":0.2,"y":0},{"p":"P13","t":"subclonal_subclonal","x":0.22,"y":0},{"p":"P13","t":"subclonal_subclonal","x":0.24,"y":0},{"p":"P13","t":"subclonal_subclonal","x":0.26,"y":0},{"p":"P13","t":"subclonal_subclonal","x":0.28,"y":0},{"p":"P13","t":"subclonal_subclonal","x":0.3,"y":0},{"p":"P13","t":"subclonal_subclonal","x":0.39,"y":0},{"p":"P13","t":"subclonal_subclonal","x":0.46,"y":0},{"p":"P13","t":"subclonal_subclonal","x":0.56,"y":0},{"p":"P13","t":"subclonal_subclonal","x":0.62,"y":0},{"p":"P13","t":"subclonal_subclonal","x":0.75,"y":0},{"p":"P13","t":"subclonal_subclonal","x":0.84,"y":0},
{"p":"P13","t":"subclonal_clonal","x":0.23,"y":1},
{"p":"P13","t":"clonal_subclonal","x":1,"y":0.82},{"p":"P13","t":"clonal_subclonal","x":1,"y":0.8},{"p":"P13","t":"clonal_subclonal","x":1,"y":0.75},{"p":"P13","t":"clonal_subclonal","x":1,"y":0.72},
{"p":"P13","t":"clonal_clonal","x":0,"y":1},{"p":"P13","t":"clonal_clonal","x":0,"y":0.99},{"p":"P13","t":"clonal_clonal","x":0,"y":0.98},{"p":"P13","t":"clonal_clonal","x":0,"y":0.91},{"p":"P13","t":"clonal_clonal","x":0,"y":0.89},{"p":"P13","t":"clonal_clonal","x":0,"y":0.88},{"p":"P13","t":"clonal_clonal","x":0.98,"y":1},{"p":"P13","t":"clonal_clonal","x":0.99,"y":1},{"p":"P13","t":"clonal_clonal","x":1,"y":1},{"p":"P13","t":"clonal_clonal","x":0.9,"y":0},{"p":"P13","t":"clonal_clonal","x":1,"y":0},
{"p":"P15","t":"subclonal_subclonal","x":0,"y":1},{"p":"P15","t":"subclonal_subclonal","x":0,"y":0.97},{"p":"P15","t":"subclonal_subclonal","x":0,"y":0.94},{"p":"P15","t":"subclonal_subclonal","x":0,"y":0.9},{"p":"P15","t":"subclonal_subclonal","x":0,"y":0.88},{"p":"P15","t":"subclonal_subclonal","x":0,"y":0.85},{"p":"P15","t":"subclonal_subclonal","x":0,"y":0.82},{"p":"P15","t":"subclonal_subclonal","x":0,"y":0.8},{"p":"P15","t":"subclonal_subclonal","x":0,"y":0.77},{"p":"P15","t":"subclonal_subclonal","x":0,"y":0.74},{"p":"P15","t":"subclonal_subclonal","x":0,"y":0.72},{"p":"P15","t":"subclonal_subclonal","x":0,"y":0.69},{"p":"P15","t":"subclonal_subclonal","x":0,"y":0.66},{"p":"P15","t":"subclonal_subclonal","x":0,"y":0.63},{"p":"P15","t":"subclonal_subclonal","x":0,"y":0.6},{"p":"P15","t":"subclonal_subclonal","x":0,"y":0.57},{"p":"P15","t":"subclonal_subclonal","x":0,"y":0.55},{"p":"P15","t":"subclonal_subclonal","x":0,"y":0.52},{"p":"P15","t":"subclonal_subclonal","x":0,"y":0.5},{"p":"P15","t":"subclonal_subclonal","x":0,"y":0.47},{"p":"P15","t":"subclonal_subclonal","x":0,"y":0.44},{"p":"P15","t":"subclonal_subclonal","x":0,"y":0.41},{"p":"P15","t":"subclonal_subclonal","x":0,"y":0.38},{"p":"P15","t":"subclonal_subclonal","x":0,"y":0.35},{"p":"P15","t":"subclonal_subclonal","x":0,"y":0.32},{"p":"P15","t":"subclonal_subclonal","x":0,"y":0.29},{"p":"P15","t":"subclonal_subclonal","x":0,"y":0.26},{"p":"P15","t":"subclonal_subclonal","x":0,"y":0.23},{"p":"P15","t":"subclonal_subclonal","x":0,"y":0.2},{"p":"P15","t":"subclonal_subclonal","x":0,"y":0.17},{"p":"P15","t":"subclonal_subclonal","x":0,"y":0.14},{"p":"P15","t":"subclonal_subclonal","x":0,"y":0.11},{"p":"P15","t":"subclonal_subclonal","x":0,"y":0.09},{"p":"P15","t":"subclonal_subclonal","x":0.53,"y":0.87},{"p":"P15","t":"subclonal_subclonal","x":0.59,"y":0.78},{"p":"P15","t":"subclonal_subclonal","x":0.68,"y":0.85},{"p":"P15","t":"subclonal_subclonal","x":0.69,"y":0.72},{"p":"P15","t":"subclonal_subclonal","x":0.73,"y":0.66},{"p":"P15","t":"subclonal_subclonal","x":0.75,"y":0.83},{"p":"P15","t":"subclonal_subclonal","x":0.82,"y":0.59},{"p":"P15","t":"subclonal_subclonal","x":0.84,"y":0.8},{"p":"P15","t":"subclonal_subclonal","x":0.85,"y":0.71},{"p":"P15","t":"subclonal_subclonal","x":0.88,"y":0.64},{"p":"P15","t":"subclonal_subclonal","x":0.84,"y":0.87},{"p":"P15","t":"subclonal_subclonal","x":0.89,"y":0.89},{"p":"P15","t":"subclonal_subclonal","x":0.86,"y":0.78},{"p":"P15","t":"subclonal_subclonal","x":0.04,"y":0},{"p":"P15","t":"subclonal_subclonal","x":0.06,"y":0},{"p":"P15","t":"subclonal_subclonal","x":0.08,"y":0},{"p":"P15","t":"subclonal_subclonal","x":0.1,"y":0},{"p":"P15","t":"subclonal_subclonal","x":0.12,"y":0},{"p":"P15","t":"subclonal_subclonal","x":0.14,"y":0},{"p":"P15","t":"subclonal_subclonal","x":0.16,"y":0},{"p":"P15","t":"subclonal_subclonal","x":0.18,"y":0},{"p":"P15","t":"subclonal_subclonal","x":0.2,"y":0},{"p":"P15","t":"subclonal_subclonal","x":0.23,"y":0},{"p":"P15","t":"subclonal_subclonal","x":0.26,"y":0},{"p":"P15","t":"subclonal_subclonal","x":0.29,"y":0},{"p":"P15","t":"subclonal_subclonal","x":0.32,"y":0},{"p":"P15","t":"subclonal_subclonal","x":0.35,"y":0},{"p":"P15","t":"subclonal_subclonal","x":0.37,"y":0},{"p":"P15","t":"subclonal_subclonal","x":0.49,"y":0},{"p":"P15","t":"subclonal_subclonal","x":0.56,"y":0},{"p":"P15","t":"subclonal_subclonal","x":0.66,"y":0},{"p":"P15","t":"subclonal_subclonal","x":0.69,"y":0},{"p":"P15","t":"subclonal_subclonal","x":0.72,"y":0},{"p":"P15","t":"subclonal_subclonal","x":0.85,"y":0},{"p":"P15","t":"subclonal_subclonal","x":0.88,"y":0},{"p":"P15","t":"subclonal_subclonal","x":0.9,"y":0},
{"p":"P15","t":"subclonal_clonal","x":0.45,"y":1},{"p":"P15","t":"subclonal_clonal","x":0.56,"y":1},{"p":"P15","t":"subclonal_clonal","x":0.61,"y":1},{"p":"P15","t":"subclonal_clonal","x":0.72,"y":1},{"p":"P15","t":"subclonal_clonal","x":0.82,"y":1},{"p":"P15","t":"subclonal_clonal","x":0.85,"y":1},{"p":"P15","t":"subclonal_clonal","x":0.87,"y":1},{"p":"P15","t":"subclonal_clonal","x":0.9,"y":1},{"p":"P15","t":"subclonal_clonal","x":0.73,"y":0.92},{"p":"P15","t":"subclonal_clonal","x":0.75,"y":0.93},{"p":"P15","t":"subclonal_clonal","x":0.84,"y":0.96},{"p":"P15","t":"subclonal_clonal","x":0.89,"y":0.93},{"p":"P15","t":"subclonal_clonal","x":0.91,"y":0.96},
{"p":"P15","t":"clonal_subclonal","x":0.92,"y":0.84},{"p":"P15","t":"clonal_subclonal","x":0.94,"y":0.81},{"p":"P15","t":"clonal_subclonal","x":1,"y":0.87},{"p":"P15","t":"clonal_subclonal","x":1,"y":0.86},{"p":"P15","t":"clonal_subclonal","x":1,"y":0.83},{"p":"P15","t":"clonal_subclonal","x":1,"y":0.8},{"p":"P15","t":"clonal_subclonal","x":1,"y":0.76},{"p":"P15","t":"clonal_subclonal","x":1,"y":0.71},{"p":"P15","t":"clonal_subclonal","x":0.94,"y":0.74},{"p":"P15","t":"clonal_subclonal","x":0.98,"y":0.9},{"p":"P15","t":"clonal_subclonal","x":0.97,"y":0.83},{"p":"P15","t":"clonal_subclonal","x":0.98,"y":0.86},
{"p":"P15","t":"clonal_clonal","x":0.92,"y":1},{"p":"P15","t":"clonal_clonal","x":0.95,"y":1},{"p":"P15","t":"clonal_clonal","x":0.98,"y":1},{"p":"P15","t":"clonal_clonal","x":1,"y":1},{"p":"P15","t":"clonal_clonal","x":0.93,"y":0.97},{"p":"P15","t":"clonal_clonal","x":0.96,"y":0.96},{"p":"P15","t":"clonal_clonal","x":0.99,"y":0.97},{"p":"P15","t":"clonal_clonal","x":1,"y":0.94},{"p":"P15","t":"clonal_clonal","x":0.97,"y":0.93},{"p":"P15","t":"clonal_clonal","x":0.94,"y":0.94},{"p":"P15","t":"clonal_clonal","x":0.96,"y":0.99},{"p":"P15","t":"clonal_clonal","x":0.99,"y":0.99},{"p":"P15","t":"clonal_clonal","x":0.92,"y":0},{"p":"P15","t":"clonal_clonal","x":0.95,"y":0},{"p":"P15","t":"clonal_clonal","x":0.98,"y":0},{"p":"P15","t":"clonal_clonal","x":1,"y":0}
],
"tree":[
{"p":"P1","k":"br","s":"P&M shared","x":39.3,"y":11.7,"x2":39.3,"y2":82},{"p":"P1","k":"br","s":"Metastasis_private","x":39.3,"y":82,"x2":35,"y2":93},{"p":"P1","k":"br","s":"Primary_private","x":39.3,"y":82,"x2":53.3,"y2":120},
{"p":"P1","k":"ul","r":"0-C","x":5,"y":62.3,"x2":33,"y2":62.3},{"p":"P1","k":"ul","r":"S-C","x":50,"y":21.7,"x2":74,"y2":21.7},
{"p":"P1","k":"head","r":"0-C","t":"0-C","x":17.5,"y":56.7},{"p":"P1","k":"head","r":"S-C","t":"S-C","x":59,"y":15},
{"p":"P1","k":"gene","r":"clonal_clonal","t":"PCLO","x":46.7,"y":31.5},{"p":"P1","k":"gene","r":"clonal_subclonal","t":"ROBO2","x":46.7,"y":39.8},{"p":"P1","k":"gene","r":"clonal_subclonal","t":"COL5A1","x":46.7,"y":48.1},{"p":"P1","k":"gene","r":"clonal_subclonal","t":"ZNF443","x":46.7,"y":56.4},{"p":"P1","k":"gene","r":"other","t":"HIT","x":6,"y":69},{"p":"P1","k":"gene","r":"other","t":"TDRD6","x":6,"y":77},{"p":"P1","k":"gene","r":"other","t":"NAV2","x":6,"y":85},
{"p":"P1","k":"tnum","r":"trunk","t":"64","x":32,"y":32},{"p":"P1","k":"num","r":"m","t":"15","x":30.7,"y":96.7},{"p":"P1","k":"num","r":"p","t":"38","x":54,"y":106},
{"p":"P1","k":"samp","r":"m","t":"P1.m","x":28.3,"y":110.7},{"p":"P1","k":"samp","r":"p","t":"P1.p","x":56.7,"y":128.3},
{"p":"P2","k":"br","s":"P&M shared","x":271.7,"y":13.3,"x2":271.7,"y2":100},{"p":"P2","k":"br","s":"Primary_private","x":271.7,"y":100,"x2":281,"y2":115},{"p":"P2","k":"br","s":"Metastasis_private","x":271.7,"y":100,"x2":262,"y2":143},
{"p":"P2","k":"ul","r":"0-C","x":231.7,"y":86,"x2":260,"y2":86},{"p":"P2","k":"ul","r":"S-C","x":282.3,"y":26.7,"x2":310,"y2":26.7},
{"p":"P2","k":"head","r":"0-C","t":"0-C","x":242.3,"y":79.3},{"p":"P2","k":"head","r":"S-C","t":"S-C","x":295.7,"y":20.7},
{"p":"P2","k":"gene","r":"other","t":"GABRA1","x":280,"y":37.3},{"p":"P2","k":"gene","r":"other","t":"ABCB4","x":280,"y":45.7},{"p":"P2","k":"gene","r":"other","t":"CDH23","x":280,"y":54},{"p":"P2","k":"gene","r":"other","t":"EEF1A2","x":280,"y":62.3},{"p":"P2","k":"gene","r":"clonal_subclonal","t":"POLE","x":235,"y":94.3},{"p":"P2","k":"gene","r":"other","t":"HLA_DOA","x":235,"y":102.7},{"p":"P2","k":"gene","r":"other","t":"TTC6","x":235,"y":111},{"p":"P2","k":"gene","r":"other","t":"CASS4","x":235,"y":119.3},
{"p":"P2","k":"tnum","r":"trunk","t":"62","x":260,"y":14},{"p":"P2","k":"num","r":"p","t":"10","x":284.3,"y":106},{"p":"P2","k":"num","r":"m","t":"25","x":272.3,"y":130.7},
{"p":"P2","k":"samp","r":"p","t":"P2.p","x":294,"y":120},{"p":"P2","k":"samp","r":"m","t":"P2.m","x":253,"y":148},
{"p":"P3","k":"br","s":"P&M shared","x":495,"y":7.3,"x2":495,"y2":78.3},{"p":"P3","k":"br","s":"Metastasis_private","x":495,"y":78.3,"x2":489,"y2":116.7},{"p":"P3","k":"br","s":"Primary_private","x":495,"y":78.3,"x2":504.3,"y2":118.3},
{"p":"P3","k":"ul","r":"0-C","x":461.7,"y":94.3,"x2":488.3,"y2":94.3},{"p":"P3","k":"ul","r":"S-C","x":510,"y":30,"x2":534.3,"y2":30},
{"p":"P3","k":"head","r":"0-C","t":"0-C","x":475,"y":89.3},{"p":"P3","k":"head","r":"S-C","t":"S-C","x":518.3,"y":24},
{"p":"P3","k":"gene","r":"clonal_clonal","t":"KRAS","x":511,"y":38.3},{"p":"P3","k":"gene","r":"clonal_subclonal","t":"CNTNAP1","x":511,"y":46.7},{"p":"P3","k":"gene","r":"clonal_subclonal","t":"ATF1","x":467.7,"y":101.7},{"p":"P3","k":"gene","r":"other","t":"RDH","x":467.7,"y":110},
{"p":"P3","k":"tnum","r":"trunk","t":"71","x":488,"y":22},{"p":"P3","k":"num","r":"p","t":"10","x":507.7,"y":96},{"p":"P3","k":"num","r":"m","t":"52","x":495.7,"y":119.3},
{"p":"P3","k":"samp","r":"m","t":"P3.m","x":489.3,"y":132.7},{"p":"P3","k":"samp","r":"p","t":"P3.p","x":514.3,"y":120},
{"p":"P4","k":"br","s":"P&M shared","x":40,"y":166.7,"x2":40,"y2":216.7},{"p":"P4","k":"br","s":"Metastasis_private","x":40,"y":216.7,"x2":33.3,"y2":252.3},{"p":"P4","k":"br","s":"Primary_private","x":40,"y":216.7,"x2":56,"y2":278.3},
{"p":"P4","k":"ul","r":"0-C","x":5,"y":216.7,"x2":30,"y2":216.7},{"p":"P4","k":"ul","r":"S-C","x":45,"y":176,"x2":73.3,"y2":176},
{"p":"P4","k":"head","r":"0-C","t":"0-C","x":16.7,"y":211},{"p":"P4","k":"head","r":"S-C","t":"S-C","x":57.3,"y":170},
{"p":"P4","k":"gene","r":"clonal_clonal","t":"KRAS","x":46.7,"y":186},{"p":"P4","k":"gene","r":"clonal_clonal","t":"CACNA1H","x":46.7,"y":194.3},{"p":"P4","k":"gene","r":"other","t":"BSN","x":46.7,"y":202.7},{"p":"P4","k":"gene","r":"other","t":"GPR88","x":6.7,"y":224},{"p":"P4","k":"gene","r":"other","t":"DCHS1","x":6.7,"y":232.3},{"p":"P4","k":"gene","r":"other","t":"MCAT","x":6.7,"y":240.6},
{"p":"P4","k":"tnum","r":"trunk","t":"55","x":32.7,"y":185},{"p":"P4","k":"num","r":"m","t":"47","x":39.3,"y":247.7},{"p":"P4","k":"num","r":"p","t":"78","x":56.7,"y":255},
{"p":"P4","k":"samp","r":"m","t":"P4.m","x":31.7,"y":260},{"p":"P4","k":"samp","r":"p","t":"P4.p","x":63.3,"y":283.3},
{"p":"P5","k":"br","s":"P&M shared","x":276.7,"y":168.3,"x2":276.7,"y2":211.7},{"p":"P5","k":"br","s":"Primary_private","x":276.7,"y":211.7,"x2":281,"y2":218.3},{"p":"P5","k":"br","s":"Metastasis_private","x":276.7,"y":211.7,"x2":261,"y2":305},
{"p":"P5","k":"ul","r":"0-C","x":236.7,"y":228.3,"x2":268.3,"y2":228.3},{"p":"P5","k":"ul","r":"S-C","x":285,"y":162.3,"x2":306.7,"y2":162.3},
{"p":"P5","k":"head","r":"0-C","t":"0-C","x":254.3,"y":222.7},{"p":"P5","k":"head","r":"S-C","t":"S-C","x":295,"y":156.7},
{"p":"P5","k":"gene","r":"clonal_clonal","t":"FBXL2","x":281.7,"y":167.7},{"p":"P5","k":"gene","r":"clonal_clonal","t":"SYNE1","x":281.7,"y":176},{"p":"P5","k":"gene","r":"clonal_clonal","t":"DNAH11","x":281.7,"y":184.3},{"p":"P5","k":"gene","r":"clonal_clonal","t":"KRAS","x":281.7,"y":192.8},{"p":"P5","k":"gene","r":"clonal_clonal","t":"CACNA1H","x":281.7,"y":201.5},{"p":"P5","k":"gene","r":"clonal_subclonal","t":"CHD4","x":281.7,"y":210.2},{"p":"P5","k":"gene","r":"clonal_clonal","t":"ABCA13","x":241,"y":233.5},{"p":"P5","k":"gene","r":"clonal_subclonal","t":"APC","x":241,"y":242.2},{"p":"P5","k":"gene","r":"clonal_subclonal","t":"HGF","x":241,"y":250.7},{"p":"P5","k":"gene","r":"clonal_subclonal","t":"BARD1","x":241,"y":259.2},
{"p":"P5","k":"tnum","r":"trunk","t":"63","x":271.7,"y":186.7},{"p":"P5","k":"num","r":"p","t":"13","x":288.3,"y":219.3},{"p":"P5","k":"num","r":"m","t":"142","x":274.3,"y":270.7},
{"p":"P5","k":"samp","r":"p","t":"P5.p","x":296,"y":237.3},{"p":"P5","k":"samp","r":"m","t":"P5.m","x":275,"y":302.7},
{"p":"P7","k":"br","s":"P&M shared","x":498.3,"y":170.7,"x2":498.3,"y2":245},{"p":"P7","k":"br","s":"Metastasis_private","x":498.3,"y":245,"x2":496.7,"y2":272.7},{"p":"P7","k":"br","s":"Primary_private","x":498.3,"y":245,"x2":509,"y2":293.3},
{"p":"P7","k":"ul","r":"0-C","x":466.7,"y":241.7,"x2":495,"y2":241.7},{"p":"P7","k":"ul","r":"S-C","x":502.7,"y":192.7,"x2":531,"y2":192.7},
{"p":"P7","k":"head","r":"0-C","t":"0-C","x":480,"y":237.3},{"p":"P7","k":"head","r":"S-C","t":"S-C","x":515,"y":186.7},
{"p":"P7","k":"gene","r":"other","t":"LAMTOR5","x":504.3,"y":200},{"p":"P7","k":"gene","r":"other","t":"PIK3C2B","x":504.3,"y":208.3},{"p":"P7","k":"gene","r":"other","t":"PLXNA2","x":504.3,"y":216.7},{"p":"P7","k":"gene","r":"other","t":"PLB1","x":504.3,"y":225},{"p":"P7","k":"gene","r":"clonal_clonal","t":"SMAD4","x":469,"y":249},{"p":"P7","k":"gene","r":"clonal_subclonal","t":"PIK3CA","x":469,"y":257.3},{"p":"P7","k":"gene","r":"other","t":"ZNF250","x":469,"y":266},
{"p":"P7","k":"tnum","r":"trunk","t":"66","x":492.3,"y":196.7},{"p":"P7","k":"num","r":"p","t":"50","x":510,"y":260},{"p":"P7","k":"num","r":"m","t":"22","x":500,"y":274.3},
{"p":"P7","k":"samp","r":"m","t":"P7.m","x":493.3,"y":285},{"p":"P7","k":"samp","r":"p","t":"P7.p","x":521.7,"y":293.3},
{"p":"P8","k":"br","s":"P&M shared","x":41.7,"y":323.3,"x2":41.7,"y2":404.3},{"p":"P8","k":"br","s":"Metastasis_private","x":41.7,"y":404.3,"x2":36,"y2":432.3},{"p":"P8","k":"br","s":"Primary_private","x":41.7,"y":404.3,"x2":65,"y2":469},
{"p":"P8","k":"ul","r":"0-C","x":6,"y":395.7,"x2":35,"y2":395.7},{"p":"P8","k":"ul","r":"S-C","x":53.3,"y":345.7,"x2":77.3,"y2":345.7},
{"p":"P8","k":"head","r":"0-C","t":"0-C","x":20,"y":391},{"p":"P8","k":"head","r":"S-C","t":"S-C","x":61.7,"y":338.3},
{"p":"P8","k":"gene","r":"clonal_clonal","t":"FBXL2","x":48.3,"y":356.7},{"p":"P8","k":"gene","r":"other","t":"ST8SIA4","x":48.3,"y":365},{"p":"P8","k":"gene","r":"other","t":"TUBB2B","x":48.3,"y":373.3},{"p":"P8","k":"gene","r":"clonal_subclonal","t":"CDH11","x":10.7,"y":404},{"p":"P8","k":"gene","r":"other","t":"ASPM","x":10.7,"y":412.3},{"p":"P8","k":"gene","r":"other","t":"PRKG2","x":10.7,"y":420.8},{"p":"P8","k":"gene","r":"other","t":"FNIP1","x":10.7,"y":429.3},
{"p":"P8","k":"tnum","r":"trunk","t":"66","x":34.3,"y":347.7},{"p":"P8","k":"num","r":"m","t":"35","x":43.3,"y":426.7},{"p":"P8","k":"num","r":"p","t":"82","x":61.7,"y":440},
{"p":"P8","k":"samp","r":"m","t":"P8.m","x":28.3,"y":443.3},{"p":"P8","k":"samp","r":"p","t":"P8.p","x":62,"y":478},
{"p":"P9","k":"br","s":"P&M shared","x":277.7,"y":341.7,"x2":277.7,"y2":430},{"p":"P9","k":"br","s":"Metastasis_private","x":277.7,"y":430,"x2":270,"y2":453.3},{"p":"P9","k":"br","s":"Primary_private","x":277.7,"y":430,"x2":295,"y2":471.7},
{"p":"P9","k":"ul","r":"0-C","x":241,"y":429.3,"x2":265,"y2":429.3},{"p":"P9","k":"ul","r":"S-C","x":282.3,"y":365.7,"x2":310,"y2":365.7},
{"p":"P9","k":"head","r":"0-C","t":"0-C","x":251.7,"y":423.3},{"p":"P9","k":"head","r":"S-C","t":"S-C","x":295.7,"y":360},
{"p":"P9","k":"gene","r":"clonal_subclonal","t":"SMAD4","x":286.7,"y":370.8},{"p":"P9","k":"gene","r":"other","t":"TGOLN2","x":286.7,"y":378.8},{"p":"P9","k":"gene","r":"other","t":"NUP54","x":286.7,"y":386.8},{"p":"P9","k":"gene","r":"other","t":"NOP16","x":286.7,"y":394.8},{"p":"P9","k":"gene","r":"other","t":"IGSF10","x":245,"y":437.3},{"p":"P9","k":"gene","r":"other","t":"MAST3","x":245,"y":445.7},
{"p":"P9","k":"tnum","r":"trunk","t":"37","x":271.7,"y":364.3},{"p":"P9","k":"num","r":"m","t":"12","x":277.7,"y":449},{"p":"P9","k":"num","r":"p","t":"20","x":296.7,"y":455.7},
{"p":"P9","k":"samp","r":"m","t":"P9.m","x":266,"y":461.7},{"p":"P9","k":"samp","r":"p","t":"P9.p","x":294,"y":480},
{"p":"P12","k":"br","s":"P&M shared","x":501.7,"y":342.3,"x2":501.7,"y2":389},{"p":"P12","k":"br","s":"Metastasis_private","x":501.7,"y":389,"x2":478.3,"y2":464.3},{"p":"P12","k":"br","s":"Primary_private","x":501.7,"y":389,"x2":510,"y2":432.3},
{"p":"P12","k":"ul","r":"0-C","x":464.3,"y":389,"x2":492.3,"y2":389},{"p":"P12","k":"ul","r":"S-C","x":507.7,"y":345.7,"x2":536.7,"y2":345.7},
{"p":"P12","k":"head","r":"0-C","t":"0-C","x":478.3,"y":383.3},{"p":"P12","k":"head","r":"S-C","t":"S-C","x":520,"y":339},
{"p":"P12","k":"gene","r":"clonal_clonal","t":"PCLO","x":508.3,"y":352.3},{"p":"P12","k":"gene","r":"other","t":"ASIC4","x":508.3,"y":361},{"p":"P12","k":"gene","r":"other","t":"COL12A1","x":508.3,"y":369.3},{"p":"P12","k":"gene","r":"other","t":"SAMD15","x":508.3,"y":377.7},{"p":"P12","k":"gene","r":"clonal_clonal","t":"SMAD4","x":466.7,"y":396},{"p":"P12","k":"gene","r":"clonal_clonal","t":"ABCA13","x":466.7,"y":404.6},{"p":"P12","k":"gene","r":"clonal_subclonal","t":"NF1","x":466.7,"y":413.2},
{"p":"P12","k":"tnum","r":"trunk","t":"56","x":495.7,"y":360},{"p":"P12","k":"num","r":"p","t":"59","x":513.3,"y":414.3},{"p":"P12","k":"num","r":"m","t":"102","x":492.3,"y":446.7},
{"p":"P12","k":"samp","r":"p","t":"P12.p","x":520,"y":444},{"p":"P12","k":"samp","r":"m","t":"P12.m","x":491.7,"y":471},
{"p":"P13","k":"br","s":"P&M shared","x":47.3,"y":530,"x2":47.3,"y2":545},{"p":"P13","k":"br","s":"Metastasis_private","x":47.3,"y":545,"x2":39.3,"y2":570},{"p":"P13","k":"br","s":"Primary_private","x":47.3,"y":545,"x2":59.3,"y2":623.3},
{"p":"P13","k":"ul","r":"0-C","x":0,"y":541.7,"x2":33.3,"y2":541.7},{"p":"P13","k":"ul","r":"S-C","x":52.7,"y":531.7,"x2":80.7,"y2":531.7},
{"p":"P13","k":"head","r":"0-C","t":"0-C","x":16.7,"y":536.7},{"p":"P13","k":"head","r":"S-C","t":"S-C","x":65,"y":525},
{"p":"P13","k":"gene","r":"other","t":"FAM184B","x":50.7,"y":541.7},{"p":"P13","k":"gene","r":"clonal_subclonal","t":"MAP2K4","x":5,"y":548.3},{"p":"P13","k":"gene","r":"other","t":"HLA-DPB1","x":5,"y":556.7},{"p":"P13","k":"gene","r":"other","t":"COL15A1","x":5,"y":565},
{"p":"P13","k":"tnum","r":"trunk","t":"10","x":41.7,"y":531.7},{"p":"P13","k":"num","r":"m","t":"19","x":46,"y":569.3},{"p":"P13","k":"num","r":"p","t":"55","x":62.7,"y":586},
{"p":"P13","k":"samp","r":"m","t":"P13.m","x":33.3,"y":582.7},{"p":"P13","k":"samp","r":"p","t":"P13.p","x":65,"y":629.3},
{"p":"P15","k":"br","s":"P&M shared","x":277.7,"y":522.7,"x2":277.7,"y2":580},{"p":"P15","k":"br","s":"Metastasis_private","x":277.7,"y":580,"x2":266.7,"y2":623.3},{"p":"P15","k":"br","s":"Primary_private","x":277.7,"y":580,"x2":287.7,"y2":626.7},
{"p":"P15","k":"ul","r":"0-C","x":238.3,"y":575,"x2":270,"y2":575},{"p":"P15","k":"ul","r":"S-C","x":283.3,"y":537.3,"x2":310,"y2":537.3},
{"p":"P15","k":"head","r":"0-C","t":"0-C","x":253.3,"y":568.3},{"p":"P15","k":"head","r":"S-C","t":"S-C","x":295,"y":531.7},
{"p":"P15","k":"gene","r":"clonal_clonal","t":"SYNE1","x":284,"y":544},{"p":"P15","k":"gene","r":"clonal_subclonal","t":"BRAF","x":284,"y":552.3},{"p":"P15","k":"gene","r":"clonal_subclonal","t":"PCDHA2","x":284,"y":561},{"p":"P15","k":"gene","r":"other","t":"GRIK3","x":284,"y":569.3},{"p":"P15","k":"gene","r":"other","t":"PKMP1","x":245.7,"y":580.7},{"p":"P15","k":"gene","r":"other","t":"XIRP2","x":245.7,"y":589},{"p":"P15","k":"gene","r":"other","t":"TRIO","x":245.7,"y":597.7},{"p":"P15","k":"gene","r":"other","t":"CGNL1","x":245.7,"y":606},
{"p":"P15","k":"tnum","r":"trunk","t":"94","x":271.7,"y":538.3},{"p":"P15","k":"num","r":"p","t":"80","x":288.3,"y":600.7},{"p":"P15","k":"num","r":"m","t":"78","x":276.7,"y":611.7},
{"p":"P15","k":"samp","r":"m","t":"P15.m","x":266.7,"y":629.3},{"p":"P15","k":"samp","r":"p","t":"P15.p","x":296.7,"y":633.3}
]
},
"concat":[
{"width":105,"height":129,"view":{"stroke":null},"data":{"name":"tree"},"transform":[{"filter":"datum.p==='P1'"}],
 "encoding":{"x":{"field":"x","type":"quantitative","scale":{"domain":[0,105],"nice":false,"zero":false},"axis":null},"y":{"field":"y","type":"quantitative","scale":{"domain":[2,131],"nice":false,"zero":false,"reverse":true},"axis":null}},
 "layer":[
  {"transform":[{"filter":"datum.k==='br'"}],"mark":{"type":"rule","strokeWidth":2.2,"strokeCap":"butt"},"encoding":{"x2":{"field":"x2"},"y2":{"field":"y2"},"stroke":{"field":"s","type":"nominal","scale":{"domain":["P&M shared","Metastasis_private","Primary_private"],"range":["#3C8DD6","#F07A2A","#1E6B3A"]},"legend":null}}},
  {"transform":[{"filter":"datum.k==='ul'"}],"mark":{"type":"rule","strokeWidth":1.2},"encoding":{"x2":{"field":"x2"},"y2":{"field":"y2"},"color":{"field":"r","type":"nominal","scale":{"domain":["0-C","S-C","clonal_clonal","clonal_subclonal","other","trunk","m","p"],"range":["#A5463F","#4A94D8","#EF5350","#86B23A","#1A1A1A","#34456E","#EF7B2C","#2D7E4E"]},"legend":null}}},
  {"transform":[{"filter":"datum.k==='head'"}],"mark":{"type":"text","fontSize":10},"encoding":{"text":{"field":"t"},"color":{"field":"r","type":"nominal","scale":{"domain":["0-C","S-C","clonal_clonal","clonal_subclonal","other","trunk","m","p"],"range":["#A5463F","#4A94D8","#EF5350","#86B23A","#1A1A1A","#34456E","#EF7B2C","#2D7E4E"]},"legend":null}}},
  {"transform":[{"filter":"datum.k==='gene'"}],"mark":{"type":"text","fontSize":7.5,"align":"left"},"encoding":{"text":{"field":"t"},"color":{"field":"r","type":"nominal","scale":{"domain":["0-C","S-C","clonal_clonal","clonal_subclonal","other","trunk","m","p"],"range":["#A5463F","#4A94D8","#EF5350","#86B23A","#1A1A1A","#34456E","#EF7B2C","#2D7E4E"]},"legend":null}}},
  {"transform":[{"filter":"datum.k==='num'"}],"mark":{"type":"text","fontSize":7},"encoding":{"text":{"field":"t"},"color":{"field":"r","type":"nominal","scale":{"domain":["0-C","S-C","clonal_clonal","clonal_subclonal","other","trunk","m","p"],"range":["#A5463F","#4A94D8","#EF5350","#86B23A","#1A1A1A","#34456E","#EF7B2C","#2D7E4E"]},"legend":null}}},
  {"transform":[{"filter":"datum.k==='tnum'"}],"mark":{"type":"text","fontSize":7,"angle":270},"encoding":{"text":{"field":"t"},"color":{"field":"r","type":"nominal","scale":{"domain":["0-C","S-C","clonal_clonal","clonal_subclonal","other","trunk","m","p"],"range":["#A5463F","#4A94D8","#EF5350","#86B23A","#1A1A1A","#34456E","#EF7B2C","#2D7E4E"]},"legend":null}}},
  {"transform":[{"filter":"datum.k==='samp'"}],"mark":{"type":"text","fontSize":10},"encoding":{"text":{"field":"t"},"color":{"field":"r","type":"nominal","scale":{"domain":["0-C","S-C","clonal_clonal","clonal_subclonal","other","trunk","m","p"],"range":["#A5463F","#4A94D8","#EF5350","#86B23A","#1A1A1A","#34456E","#EF7B2C","#2D7E4E"]},"legend":null}}}
 ]},
{"width":117,"height":129,"data":{"name":"pts"},"transform":[{"filter":"datum.p==='P1'"}],"mark":{"type":"circle","size":27,"opacity":1},
 "encoding":{"x":{"field":"x","type":"quantitative","scale":{"domain":[-0.05,1.05],"nice":false,"zero":false},"axis":{"values":[0,0.25,0.5,0.75,1],"format":".2f","title":null}},"y":{"field":"y","type":"quantitative","scale":{"domain":[-0.05,1.05],"nice":false,"zero":false},"axis":{"values":[0,0.25,0.5,0.75,1],"format":".2f","title":null}},"fill":{"field":"t","type":"nominal","scale":{"domain":["clonal_clonal","clonal_subclonal","subclonal_subclonal","subclonal_clonal"],"range":["#F8766D","#7CAE00","#00BFC4","#C77CFF"]},"legend":null}}},
{"width":118,"height":129,"view":{"stroke":null},"data":{"name":"tree"},"transform":[{"filter":"datum.p==='P2'"}],
 "encoding":{"x":{"field":"x","type":"quantitative","scale":{"domain":[222,340],"nice":false,"zero":false},"axis":null},"y":{"field":"y","type":"quantitative","scale":{"domain":[2,131],"nice":false,"zero":false,"reverse":true},"axis":null}},
 "layer":[
  {"transform":[{"filter":"datum.k==='br'"}],"mark":{"type":"rule","strokeWidth":2.2,"strokeCap":"butt"},"encoding":{"x2":{"field":"x2"},"y2":{"field":"y2"},"stroke":{"field":"s","type":"nominal","scale":{"domain":["P&M shared","Metastasis_private","Primary_private"],"range":["#3C8DD6","#F07A2A","#1E6B3A"]},"legend":null}}},
  {"transform":[{"filter":"datum.k==='ul'"}],"mark":{"type":"rule","strokeWidth":1.2},"encoding":{"x2":{"field":"x2"},"y2":{"field":"y2"},"color":{"field":"r","type":"nominal","scale":{"domain":["0-C","S-C","clonal_clonal","clonal_subclonal","other","trunk","m","p"],"range":["#A5463F","#4A94D8","#EF5350","#86B23A","#1A1A1A","#34456E","#EF7B2C","#2D7E4E"]},"legend":null}}},
  {"transform":[{"filter":"datum.k==='head'"}],"mark":{"type":"text","fontSize":10},"encoding":{"text":{"field":"t"},"color":{"field":"r","type":"nominal","scale":{"domain":["0-C","S-C","clonal_clonal","clonal_subclonal","other","trunk","m","p"],"range":["#A5463F","#4A94D8","#EF5350","#86B23A","#1A1A1A","#34456E","#EF7B2C","#2D7E4E"]},"legend":null}}},
  {"transform":[{"filter":"datum.k==='gene'"}],"mark":{"type":"text","fontSize":7.5,"align":"left"},"encoding":{"text":{"field":"t"},"color":{"field":"r","type":"nominal","scale":{"domain":["0-C","S-C","clonal_clonal","clonal_subclonal","other","trunk","m","p"],"range":["#A5463F","#4A94D8","#EF5350","#86B23A","#1A1A1A","#34456E","#EF7B2C","#2D7E4E"]},"legend":null}}},
  {"transform":[{"filter":"datum.k==='num'"}],"mark":{"type":"text","fontSize":7},"encoding":{"text":{"field":"t"},"color":{"field":"r","type":"nominal","scale":{"domain":["0-C","S-C","clonal_clonal","clonal_subclonal","other","trunk","m","p"],"range":["#A5463F","#4A94D8","#EF5350","#86B23A","#1A1A1A","#34456E","#EF7B2C","#2D7E4E"]},"legend":null}}},
  {"transform":[{"filter":"datum.k==='tnum'"}],"mark":{"type":"text","fontSize":7,"angle":270},"encoding":{"text":{"field":"t"},"color":{"field":"r","type":"nominal","scale":{"domain":["0-C","S-C","clonal_clonal","clonal_subclonal","other","trunk","m","p"],"range":["#A5463F","#4A94D8","#EF5350","#86B23A","#1A1A1A","#34456E","#EF7B2C","#2D7E4E"]},"legend":null}}},
  {"transform":[{"filter":"datum.k==='samp'"}],"mark":{"type":"text","fontSize":10},"encoding":{"text":{"field":"t"},"color":{"field":"r","type":"nominal","scale":{"domain":["0-C","S-C","clonal_clonal","clonal_subclonal","other","trunk","m","p"],"range":["#A5463F","#4A94D8","#EF5350","#86B23A","#1A1A1A","#34456E","#EF7B2C","#2D7E4E"]},"legend":null}}}
 ]},
{"width":117,"height":129,"data":{"name":"pts"},"transform":[{"filter":"datum.p==='P2'"}],"mark":{"type":"circle","size":27,"opacity":1},
 "encoding":{"x":{"field":"x","type":"quantitative","scale":{"domain":[-0.05,1.05],"nice":false,"zero":false},"axis":{"values":[0,0.25,0.5,0.75,1],"format":".2f","title":null}},"y":{"field":"y","type":"quantitative","scale":{"domain":[-0.05,1.05],"nice":false,"zero":false},"axis":{"values":[0,0.25,0.5,0.75,1],"format":".2f","title":null}},"fill":{"field":"t","type":"nominal","scale":{"domain":["clonal_clonal","clonal_subclonal","subclonal_subclonal","subclonal_clonal"],"range":["#F8766D","#7CAE00","#00BFC4","#C77CFF"]},"legend":null}}},
{"width":105,"height":129,"view":{"stroke":null},"data":{"name":"tree"},"transform":[{"filter":"datum.p==='P3'"}],
 "encoding":{"x":{"field":"x","type":"quantitative","scale":{"domain":[457,562],"nice":false,"zero":false},"axis":null},"y":{"field":"y","type":"quantitative","scale":{"domain":[2,131],"nice":false,"zero":false,"reverse":true},"axis":null}},
 "layer":[
  {"transform":[{"filter":"datum.k==='br'"}],"mark":{"type":"rule","strokeWidth":2.2,"strokeCap":"butt"},"encoding":{"x2":{"field":"x2"},"y2":{"field":"y2"},"stroke":{"field":"s","type":"nominal","scale":{"domain":["P&M shared","Metastasis_private","Primary_private"],"range":["#3C8DD6","#F07A2A","#1E6B3A"]},"legend":null}}},
  {"transform":[{"filter":"datum.k==='ul'"}],"mark":{"type":"rule","strokeWidth":1.2},"encoding":{"x2":{"field":"x2"},"y2":{"field":"y2"},"color":{"field":"r","type":"nominal","scale":{"domain":["0-C","S-C","clonal_clonal","clonal_subclonal","other","trunk","m","p"],"range":["#A5463F","#4A94D8","#EF5350","#86B23A","#1A1A1A","#34456E","#EF7B2C","#2D7E4E"]},"legend":null}}},
  {"transform":[{"filter":"datum.k==='head'"}],"mark":{"type":"text","fontSize":10},"encoding":{"text":{"field":"t"},"color":{"field":"r","type":"nominal","scale":{"domain":["0-C","S-C","clonal_clonal","clonal_subclonal","other","trunk","m","p"],"range":["#A5463F","#4A94D8","#EF5350","#86B23A","#1A1A1A","#34456E","#EF7B2C","#2D7E4E"]},"legend":null}}},
  {"transform":[{"filter":"datum.k==='gene'"}],"mark":{"type":"text","fontSize":7.5,"align":"left"},"encoding":{"text":{"field":"t"},"color":{"field":"r","type":"nominal","scale":{"domain":["0-C","S-C","clonal_clonal","clonal_subclonal","other","trunk","m","p"],"range":["#A5463F","#4A94D8","#EF5350","#86B23A","#1A1A1A","#34456E","#EF7B2C","#2D7E4E"]},"legend":null}}},
  {"transform":[{"filter":"datum.k==='num'"}],"mark":{"type":"text","fontSize":7},"encoding":{"text":{"field":"t"},"color":{"field":"r","type":"nominal","scale":{"domain":["0-C","S-C","clonal_clonal","clonal_subclonal","other","trunk","m","p"],"range":["#A5463F","#4A94D8","#EF5350","#86B23A","#1A1A1A","#34456E","#EF7B2C","#2D7E4E"]},"legend":null}}},
  {"transform":[{"filter":"datum.k==='tnum'"}],"mark":{"type":"text","fontSize":7,"angle":270},"encoding":{"text":{"field":"t"},"color":{"field":"r","type":"nominal","scale":{"domain":["0-C","S-C","clonal_clonal","clonal_subclonal","other","trunk","m","p"],"range":["#A5463F","#4A94D8","#EF5350","#86B23A","#1A1A1A","#34456E","#EF7B2C","#2D7E4E"]},"legend":null}}},
  {"transform":[{"filter":"datum.k==='samp'"}],"mark":{"type":"text","fontSize":10},"encoding":{"text":{"field":"t"},"color":{"field":"r","type":"nominal","scale":{"domain":["0-C","S-C","clonal_clonal","clonal_subclonal","other","trunk","m","p"],"range":["#A5463F","#4A94D8","#EF5350","#86B23A","#1A1A1A","#34456E","#EF7B2C","#2D7E4E"]},"legend":null}}}
 ]},
{"width":117,"height":129,"data":{"name":"pts"},"transform":[{"filter":"datum.p==='P3'"}],"mark":{"type":"circle","size":27,"opacity":1},
 "encoding":{"x":{"field":"x","type":"quantitative","scale":{"domain":[-0.05,1.05],"nice":false,"zero":false},"axis":{"values":[0,0.25,0.5,0.75,1],"format":".2f","title":null}},"y":{"field":"y","type":"quantitative","scale":{"domain":[-0.05,1.05],"nice":false,"zero":false},"axis":{"values":[0,0.25,0.5,0.75,1],"format":".2f","title":null}},"fill":{"field":"t","type":"nominal","scale":{"domain":["clonal_clonal","clonal_subclonal","subclonal_subclonal","subclonal_clonal"],"range":["#F8766D","#7CAE00","#00BFC4","#C77CFF"]},"legend":null}}},
{"width":105,"height":142,"view":{"stroke":null},"data":{"name":"tree"},"transform":[{"filter":"datum.p==='P4'"}],
 "encoding":{"x":{"field":"x","type":"quantitative","scale":{"domain":[0,105],"nice":false,"zero":false},"axis":null},"y":{"field":"y","type":"quantitative","scale":{"domain":[161,303],"nice":false,"zero":false,"reverse":true},"axis":null}},
 "layer":[
  {"transform":[{"filter":"datum.k==='br'"}],"mark":{"type":"rule","strokeWidth":2.2,"strokeCap":"butt"},"encoding":{"x2":{"field":"x2"},"y2":{"field":"y2"},"stroke":{"field":"s","type":"nominal","scale":{"domain":["P&M shared","Metastasis_private","Primary_private"],"range":["#3C8DD6","#F07A2A","#1E6B3A"]},"legend":null}}},
  {"transform":[{"filter":"datum.k==='ul'"}],"mark":{"type":"rule","strokeWidth":1.2},"encoding":{"x2":{"field":"x2"},"y2":{"field":"y2"},"color":{"field":"r","type":"nominal","scale":{"domain":["0-C","S-C","clonal_clonal","clonal_subclonal","other","trunk","m","p"],"range":["#A5463F","#4A94D8","#EF5350","#86B23A","#1A1A1A","#34456E","#EF7B2C","#2D7E4E"]},"legend":null}}},
  {"transform":[{"filter":"datum.k==='head'"}],"mark":{"type":"text","fontSize":10},"encoding":{"text":{"field":"t"},"color":{"field":"r","type":"nominal","scale":{"domain":["0-C","S-C","clonal_clonal","clonal_subclonal","other","trunk","m","p"],"range":["#A5463F","#4A94D8","#EF5350","#86B23A","#1A1A1A","#34456E","#EF7B2C","#2D7E4E"]},"legend":null}}},
  {"transform":[{"filter":"datum.k==='gene'"}],"mark":{"type":"text","fontSize":7.5,"align":"left"},"encoding":{"text":{"field":"t"},"color":{"field":"r","type":"nominal","scale":{"domain":["0-C","S-C","clonal_clonal","clonal_subclonal","other","trunk","m","p"],"range":["#A5463F","#4A94D8","#EF5350","#86B23A","#1A1A1A","#34456E","#EF7B2C","#2D7E4E"]},"legend":null}}},
  {"transform":[{"filter":"datum.k==='num'"}],"mark":{"type":"text","fontSize":7},"encoding":{"text":{"field":"t"},"color":{"field":"r","type":"nominal","scale":{"domain":["0-C","S-C","clonal_clonal","clonal_subclonal","other","trunk","m","p"],"range":["#A5463F","#4A94D8","#EF5350","#86B23A","#1A1A1A","#34456E","#EF7B2C","#2D7E4E"]},"legend":null}}},
  {"transform":[{"filter":"datum.k==='tnum'"}],"mark":{"type":"text","fontSize":7,"angle":270},"encoding":{"text":{"field":"t"},"color":{"field":"r","type":"nominal","scale":{"domain":["0-C","S-C","clonal_clonal","clonal_subclonal","other","trunk","m","p"],"range":["#A5463F","#4A94D8","#EF5350","#86B23A","#1A1A1A","#34456E","#EF7B2C","#2D7E4E"]},"legend":null}}},
  {"transform":[{"filter":"datum.k==='samp'"}],"mark":{"type":"text","fontSize":10},"encoding":{"text":{"field":"t"},"color":{"field":"r","type":"nominal","scale":{"domain":["0-C","S-C","clonal_clonal","clonal_subclonal","other","trunk","m","p"],"range":["#A5463F","#4A94D8","#EF5350","#86B23A","#1A1A1A","#34456E","#EF7B2C","#2D7E4E"]},"legend":null}}}
 ]},
{"width":117,"height":129,"data":{"name":"pts"},"transform":[{"filter":"datum.p==='P4'"}],"mark":{"type":"circle","size":27,"opacity":1},
 "encoding":{"x":{"field":"x","type":"quantitative","scale":{"domain":[-0.05,1.05],"nice":false,"zero":false},"axis":{"values":[0,0.25,0.5,0.75,1],"format":".2f","title":null}},"y":{"field":"y","type":"quantitative","scale":{"domain":[-0.05,1.05],"nice":false,"zero":false},"axis":{"values":[0,0.25,0.5,0.75,1],"format":".2f","title":null}},"fill":{"field":"t","type":"nominal","scale":{"domain":["clonal_clonal","clonal_subclonal","subclonal_subclonal","subclonal_clonal"],"range":["#F8766D","#7CAE00","#00BFC4","#C77CFF"]},"legend":null}}},
{"width":118,"height":142,"view":{"stroke":null},"data":{"name":"tree"},"transform":[{"filter":"datum.p==='P5'"}],
 "encoding":{"x":{"field":"x","type":"quantitative","scale":{"domain":[222,340],"nice":false,"zero":false},"axis":null},"y":{"field":"y","type":"quantitative","scale":{"domain":[161,303],"nice":false,"zero":false,"reverse":true},"axis":null}},
 "layer":[
  {"transform":[{"filter":"datum.k==='br'"}],"mark":{"type":"rule","strokeWidth":2.2,"strokeCap":"butt"},"encoding":{"x2":{"field":"x2"},"y2":{"field":"y2"},"stroke":{"field":"s","type":"nominal","scale":{"domain":["P&M shared","Metastasis_private","Primary_private"],"range":["#3C8DD6","#F07A2A","#1E6B3A"]},"legend":null}}},
  {"transform":[{"filter":"datum.k==='ul'"}],"mark":{"type":"rule","strokeWidth":1.2},"encoding":{"x2":{"field":"x2"},"y2":{"field":"y2"},"color":{"field":"r","type":"nominal","scale":{"domain":["0-C","S-C","clonal_clonal","clonal_subclonal","other","trunk","m","p"],"range":["#A5463F","#4A94D8","#EF5350","#86B23A","#1A1A1A","#34456E","#EF7B2C","#2D7E4E"]},"legend":null}}},
  {"transform":[{"filter":"datum.k==='head'"}],"mark":{"type":"text","fontSize":10},"encoding":{"text":{"field":"t"},"color":{"field":"r","type":"nominal","scale":{"domain":["0-C","S-C","clonal_clonal","clonal_subclonal","other","trunk","m","p"],"range":["#A5463F","#4A94D8","#EF5350","#86B23A","#1A1A1A","#34456E","#EF7B2C","#2D7E4E"]},"legend":null}}},
  {"transform":[{"filter":"datum.k==='gene'"}],"mark":{"type":"text","fontSize":7.5,"align":"left"},"encoding":{"text":{"field":"t"},"color":{"field":"r","type":"nominal","scale":{"domain":["0-C","S-C","clonal_clonal","clonal_subclonal","other","trunk","m","p"],"range":["#A5463F","#4A94D8","#EF5350","#86B23A","#1A1A1A","#34456E","#EF7B2C","#2D7E4E"]},"legend":null}}},
  {"transform":[{"filter":"datum.k==='num'"}],"mark":{"type":"text","fontSize":7},"encoding":{"text":{"field":"t"},"color":{"field":"r","type":"nominal","scale":{"domain":["0-C","S-C","clonal_clonal","clonal_subclonal","other","trunk","m","p"],"range":["#A5463F","#4A94D8","#EF5350","#86B23A","#1A1A1A","#34456E","#EF7B2C","#2D7E4E"]},"legend":null}}},
  {"transform":[{"filter":"datum.k==='tnum'"}],"mark":{"type":"text","fontSize":7,"angle":270},"encoding":{"text":{"field":"t"},"color":{"field":"r","type":"nominal","scale":{"domain":["0-C","S-C","clonal_clonal","clonal_subclonal","other","trunk","m","p"],"range":["#A5463F","#4A94D8","#EF5350","#86B23A","#1A1A1A","#34456E","#EF7B2C","#2D7E4E"]},"legend":null}}},
  {"transform":[{"filter":"datum.k==='samp'"}],"mark":{"type":"text","fontSize":10},"encoding":{"text":{"field":"t"},"color":{"field":"r","type":"nominal","scale":{"domain":["0-C","S-C","clonal_clonal","clonal_subclonal","other","trunk","m","p"],"range":["#A5463F","#4A94D8","#EF5350","#86B23A","#1A1A1A","#34456E","#EF7B2C","#2D7E4E"]},"legend":null}}}
 ]},
{"width":117,"height":129,"data":{"name":"pts"},"transform":[{"filter":"datum.p==='P5'"}],"mark":{"type":"circle","size":27,"opacity":1},
 "encoding":{"x":{"field":"x","type":"quantitative","scale":{"domain":[-0.05,1.05],"nice":false,"zero":false},"axis":{"values":[0,0.25,0.5,0.75,1],"format":".2f","title":null}},"y":{"field":"y","type":"quantitative","scale":{"domain":[-0.05,1.05],"nice":false,"zero":false},"axis":{"values":[0,0.25,0.5,0.75,1],"format":".2f","title":null}},"fill":{"field":"t","type":"nominal","scale":{"domain":["clonal_clonal","subclonal_subclonal","subclonal_clonal"],"range":["#F8766D","#00BA38","#619CFF"]},"legend":null}}},
{"width":105,"height":142,"view":{"stroke":null},"data":{"name":"tree"},"transform":[{"filter":"datum.p==='P7'"}],
 "encoding":{"x":{"field":"x","type":"quantitative","scale":{"domain":[457,562],"nice":false,"zero":false},"axis":null},"y":{"field":"y","type":"quantitative","scale":{"domain":[161,303],"nice":false,"zero":false,"reverse":true},"axis":null}},
 "layer":[
  {"transform":[{"filter":"datum.k==='br'"}],"mark":{"type":"rule","strokeWidth":2.2,"strokeCap":"butt"},"encoding":{"x2":{"field":"x2"},"y2":{"field":"y2"},"stroke":{"field":"s","type":"nominal","scale":{"domain":["P&M shared","Metastasis_private","Primary_private"],"range":["#3C8DD6","#F07A2A","#1E6B3A"]},"legend":null}}},
  {"transform":[{"filter":"datum.k==='ul'"}],"mark":{"type":"rule","strokeWidth":1.2},"encoding":{"x2":{"field":"x2"},"y2":{"field":"y2"},"color":{"field":"r","type":"nominal","scale":{"domain":["0-C","S-C","clonal_clonal","clonal_subclonal","other","trunk","m","p"],"range":["#A5463F","#4A94D8","#EF5350","#86B23A","#1A1A1A","#34456E","#EF7B2C","#2D7E4E"]},"legend":null}}},
  {"transform":[{"filter":"datum.k==='head'"}],"mark":{"type":"text","fontSize":10},"encoding":{"text":{"field":"t"},"color":{"field":"r","type":"nominal","scale":{"domain":["0-C","S-C","clonal_clonal","clonal_subclonal","other","trunk","m","p"],"range":["#A5463F","#4A94D8","#EF5350","#86B23A","#1A1A1A","#34456E","#EF7B2C","#2D7E4E"]},"legend":null}}},
  {"transform":[{"filter":"datum.k==='gene'"}],"mark":{"type":"text","fontSize":7.5,"align":"left"},"encoding":{"text":{"field":"t"},"color":{"field":"r","type":"nominal","scale":{"domain":["0-C","S-C","clonal_clonal","clonal_subclonal","other","trunk","m","p"],"range":["#A5463F","#4A94D8","#EF5350","#86B23A","#1A1A1A","#34456E","#EF7B2C","#2D7E4E"]},"legend":null}}},
  {"transform":[{"filter":"datum.k==='num'"}],"mark":{"type":"text","fontSize":7},"encoding":{"text":{"field":"t"},"color":{"field":"r","type":"nominal","scale":{"domain":["0-C","S-C","clonal_clonal","clonal_subclonal","other","trunk","m","p"],"range":["#A5463F","#4A94D8","#EF5350","#86B23A","#1A1A1A","#34456E","#EF7B2C","#2D7E4E"]},"legend":null}}},
  {"transform":[{"filter":"datum.k==='tnum'"}],"mark":{"type":"text","fontSize":7,"angle":270},"encoding":{"text":{"field":"t"},"color":{"field":"r","type":"nominal","scale":{"domain":["0-C","S-C","clonal_clonal","clonal_subclonal","other","trunk","m","p"],"range":["#A5463F","#4A94D8","#EF5350","#86B23A","#1A1A1A","#34456E","#EF7B2C","#2D7E4E"]},"legend":null}}},
  {"transform":[{"filter":"datum.k==='samp'"}],"mark":{"type":"text","fontSize":10},"encoding":{"text":{"field":"t"},"color":{"field":"r","type":"nominal","scale":{"domain":["0-C","S-C","clonal_clonal","clonal_subclonal","other","trunk","m","p"],"range":["#A5463F","#4A94D8","#EF5350","#86B23A","#1A1A1A","#34456E","#EF7B2C","#2D7E4E"]},"legend":null}}}
 ]},
{"width":117,"height":129,"data":{"name":"pts"},"transform":[{"filter":"datum.p==='P7'"}],"mark":{"type":"circle","size":27,"opacity":1},
 "encoding":{"x":{"field":"x","type":"quantitative","scale":{"domain":[-0.05,1.05],"nice":false,"zero":false},"axis":{"values":[0,0.25,0.5,0.75,1],"format":".2f","title":null}},"y":{"field":"y","type":"quantitative","scale":{"domain":[-0.05,1.05],"nice":false,"zero":false},"axis":{"values":[0,0.25,0.5,0.75,1],"format":".2f","title":null}},"fill":{"field":"t","type":"nominal","scale":{"domain":["clonal_clonal","clonal_subclonal","subclonal_subclonal","subclonal_clonal"],"range":["#F8766D","#7CAE00","#00BFC4","#C77CFF"]},"legend":null}}},
{"width":105,"height":143,"view":{"stroke":null},"data":{"name":"tree"},"transform":[{"filter":"datum.p==='P8'"}],
 "encoding":{"x":{"field":"x","type":"quantitative","scale":{"domain":[0,105],"nice":false,"zero":false},"axis":null},"y":{"field":"y","type":"quantitative","scale":{"domain":[333,476],"nice":false,"zero":false,"reverse":true},"axis":null}},
 "layer":[
  {"transform":[{"filter":"datum.k==='br'"}],"mark":{"type":"rule","strokeWidth":2.2,"strokeCap":"butt"},"encoding":{"x2":{"field":"x2"},"y2":{"field":"y2"},"stroke":{"field":"s","type":"nominal","scale":{"domain":["P&M shared","Metastasis_private","Primary_private"],"range":["#3C8DD6","#F07A2A","#1E6B3A"]},"legend":null}}},
  {"transform":[{"filter":"datum.k==='ul'"}],"mark":{"type":"rule","strokeWidth":1.2},"encoding":{"x2":{"field":"x2"},"y2":{"field":"y2"},"color":{"field":"r","type":"nominal","scale":{"domain":["0-C","S-C","clonal_clonal","clonal_subclonal","other","trunk","m","p"],"range":["#A5463F","#4A94D8","#EF5350","#86B23A","#1A1A1A","#34456E","#EF7B2C","#2D7E4E"]},"legend":null}}},
  {"transform":[{"filter":"datum.k==='head'"}],"mark":{"type":"text","fontSize":10},"encoding":{"text":{"field":"t"},"color":{"field":"r","type":"nominal","scale":{"domain":["0-C","S-C","clonal_clonal","clonal_subclonal","other","trunk","m","p"],"range":["#A5463F","#4A94D8","#EF5350","#86B23A","#1A1A1A","#34456E","#EF7B2C","#2D7E4E"]},"legend":null}}},
  {"transform":[{"filter":"datum.k==='gene'"}],"mark":{"type":"text","fontSize":7.5,"align":"left"},"encoding":{"text":{"field":"t"},"color":{"field":"r","type":"nominal","scale":{"domain":["0-C","S-C","clonal_clonal","clonal_subclonal","other","trunk","m","p"],"range":["#A5463F","#4A94D8","#EF5350","#86B23A","#1A1A1A","#34456E","#EF7B2C","#2D7E4E"]},"legend":null}}},
  {"transform":[{"filter":"datum.k==='num'"}],"mark":{"type":"text","fontSize":7},"encoding":{"text":{"field":"t"},"color":{"field":"r","type":"nominal","scale":{"domain":["0-C","S-C","clonal_clonal","clonal_subclonal","other","trunk","m","p"],"range":["#A5463F","#4A94D8","#EF5350","#86B23A","#1A1A1A","#34456E","#EF7B2C","#2D7E4E"]},"legend":null}}},
  {"transform":[{"filter":"datum.k==='tnum'"}],"mark":{"type":"text","fontSize":7,"angle":270},"encoding":{"text":{"field":"t"},"color":{"field":"r","type":"nominal","scale":{"domain":["0-C","S-C","clonal_clonal","clonal_subclonal","other","trunk","m","p"],"range":["#A5463F","#4A94D8","#EF5350","#86B23A","#1A1A1A","#34456E","#EF7B2C","#2D7E4E"]},"legend":null}}},
  {"transform":[{"filter":"datum.k==='samp'"}],"mark":{"type":"text","fontSize":10},"encoding":{"text":{"field":"t"},"color":{"field":"r","type":"nominal","scale":{"domain":["0-C","S-C","clonal_clonal","clonal_subclonal","other","trunk","m","p"],"range":["#A5463F","#4A94D8","#EF5350","#86B23A","#1A1A1A","#34456E","#EF7B2C","#2D7E4E"]},"legend":null}}}
 ]},
{"width":117,"height":129,"data":{"name":"pts"},"transform":[{"filter":"datum.p==='P8'"}],"mark":{"type":"circle","size":27,"opacity":1},
 "encoding":{"x":{"field":"x","type":"quantitative","scale":{"domain":[-0.05,1.05],"nice":false,"zero":false},"axis":{"values":[0,0.25,0.5,0.75,1],"format":".2f","title":null}},"y":{"field":"y","type":"quantitative","scale":{"domain":[-0.05,1.05],"nice":false,"zero":false},"axis":{"values":[0,0.25,0.5,0.75,1],"format":".2f","title":null}},"fill":{"field":"t","type":"nominal","scale":{"domain":["clonal_clonal","clonal_subclonal","subclonal_subclonal","subclonal_clonal"],"range":["#F8766D","#7CAE00","#00BFC4","#C77CFF"]},"legend":null}}},
{"width":118,"height":143,"view":{"stroke":null},"data":{"name":"tree"},"transform":[{"filter":"datum.p==='P9'"}],
 "encoding":{"x":{"field":"x","type":"quantitative","scale":{"domain":[222,340],"nice":false,"zero":false},"axis":null},"y":{"field":"y","type":"quantitative","scale":{"domain":[333,476],"nice":false,"zero":false,"reverse":true},"axis":null}},
 "layer":[
  {"transform":[{"filter":"datum.k==='br'"}],"mark":{"type":"rule","strokeWidth":2.2,"strokeCap":"butt"},"encoding":{"x2":{"field":"x2"},"y2":{"field":"y2"},"stroke":{"field":"s","type":"nominal","scale":{"domain":["P&M shared","Metastasis_private","Primary_private"],"range":["#3C8DD6","#F07A2A","#1E6B3A"]},"legend":null}}},
  {"transform":[{"filter":"datum.k==='ul'"}],"mark":{"type":"rule","strokeWidth":1.2},"encoding":{"x2":{"field":"x2"},"y2":{"field":"y2"},"color":{"field":"r","type":"nominal","scale":{"domain":["0-C","S-C","clonal_clonal","clonal_subclonal","other","trunk","m","p"],"range":["#A5463F","#4A94D8","#EF5350","#86B23A","#1A1A1A","#34456E","#EF7B2C","#2D7E4E"]},"legend":null}}},
  {"transform":[{"filter":"datum.k==='head'"}],"mark":{"type":"text","fontSize":10},"encoding":{"text":{"field":"t"},"color":{"field":"r","type":"nominal","scale":{"domain":["0-C","S-C","clonal_clonal","clonal_subclonal","other","trunk","m","p"],"range":["#A5463F","#4A94D8","#EF5350","#86B23A","#1A1A1A","#34456E","#EF7B2C","#2D7E4E"]},"legend":null}}},
  {"transform":[{"filter":"datum.k==='gene'"}],"mark":{"type":"text","fontSize":7.5,"align":"left"},"encoding":{"text":{"field":"t"},"color":{"field":"r","type":"nominal","scale":{"domain":["0-C","S-C","clonal_clonal","clonal_subclonal","other","trunk","m","p"],"range":["#A5463F","#4A94D8","#EF5350","#86B23A","#1A1A1A","#34456E","#EF7B2C","#2D7E4E"]},"legend":null}}},
  {"transform":[{"filter":"datum.k==='num'"}],"mark":{"type":"text","fontSize":7},"encoding":{"text":{"field":"t"},"color":{"field":"r","type":"nominal","scale":{"domain":["0-C","S-C","clonal_clonal","clonal_subclonal","other","trunk","m","p"],"range":["#A5463F","#4A94D8","#EF5350","#86B23A","#1A1A1A","#34456E","#EF7B2C","#2D7E4E"]},"legend":null}}},
  {"transform":[{"filter":"datum.k==='tnum'"}],"mark":{"type":"text","fontSize":7,"angle":270},"encoding":{"text":{"field":"t"},"color":{"field":"r","type":"nominal","scale":{"domain":["0-C","S-C","clonal_clonal","clonal_subclonal","other","trunk","m","p"],"range":["#A5463F","#4A94D8","#EF5350","#86B23A","#1A1A1A","#34456E","#EF7B2C","#2D7E4E"]},"legend":null}}},
  {"transform":[{"filter":"datum.k==='samp'"}],"mark":{"type":"text","fontSize":10},"encoding":{"text":{"field":"t"},"color":{"field":"r","type":"nominal","scale":{"domain":["0-C","S-C","clonal_clonal","clonal_subclonal","other","trunk","m","p"],"range":["#A5463F","#4A94D8","#EF5350","#86B23A","#1A1A1A","#34456E","#EF7B2C","#2D7E4E"]},"legend":null}}}
 ]},
{"width":117,"height":129,"data":{"name":"pts"},"transform":[{"filter":"datum.p==='P9'"}],"mark":{"type":"circle","size":27,"opacity":1},
 "encoding":{"x":{"field":"x","type":"quantitative","scale":{"domain":[-0.05,1.05],"nice":false,"zero":false},"axis":{"values":[0,0.25,0.5,0.75,1],"format":".2f","title":null}},"y":{"field":"y","type":"quantitative","scale":{"domain":[-0.05,1.05],"nice":false,"zero":false},"axis":{"values":[0,0.25,0.5,0.75,1],"format":".2f","title":null}},"fill":{"field":"t","type":"nominal","scale":{"domain":["clonal_clonal","clonal_subclonal","subclonal_subclonal","subclonal_clonal"],"range":["#F8766D","#7CAE00","#00BFC4","#C77CFF"]},"legend":null}}},
{"width":105,"height":143,"view":{"stroke":null},"data":{"name":"tree"},"transform":[{"filter":"datum.p==='P12'"}],
 "encoding":{"x":{"field":"x","type":"quantitative","scale":{"domain":[457,562],"nice":false,"zero":false},"axis":null},"y":{"field":"y","type":"quantitative","scale":{"domain":[333,476],"nice":false,"zero":false,"reverse":true},"axis":null}},
 "layer":[
  {"transform":[{"filter":"datum.k==='br'"}],"mark":{"type":"rule","strokeWidth":2.2,"strokeCap":"butt"},"encoding":{"x2":{"field":"x2"},"y2":{"field":"y2"},"stroke":{"field":"s","type":"nominal","scale":{"domain":["P&M shared","Metastasis_private","Primary_private"],"range":["#3C8DD6","#F07A2A","#1E6B3A"]},"legend":null}}},
  {"transform":[{"filter":"datum.k==='ul'"}],"mark":{"type":"rule","strokeWidth":1.2},"encoding":{"x2":{"field":"x2"},"y2":{"field":"y2"},"color":{"field":"r","type":"nominal","scale":{"domain":["0-C","S-C","clonal_clonal","clonal_subclonal","other","trunk","m","p"],"range":["#A5463F","#4A94D8","#EF5350","#86B23A","#1A1A1A","#34456E","#EF7B2C","#2D7E4E"]},"legend":null}}},
  {"transform":[{"filter":"datum.k==='head'"}],"mark":{"type":"text","fontSize":10},"encoding":{"text":{"field":"t"},"color":{"field":"r","type":"nominal","scale":{"domain":["0-C","S-C","clonal_clonal","clonal_subclonal","other","trunk","m","p"],"range":["#A5463F","#4A94D8","#EF5350","#86B23A","#1A1A1A","#34456E","#EF7B2C","#2D7E4E"]},"legend":null}}},
  {"transform":[{"filter":"datum.k==='gene'"}],"mark":{"type":"text","fontSize":7.5,"align":"left"},"encoding":{"text":{"field":"t"},"color":{"field":"r","type":"nominal","scale":{"domain":["0-C","S-C","clonal_clonal","clonal_subclonal","other","trunk","m","p"],"range":["#A5463F","#4A94D8","#EF5350","#86B23A","#1A1A1A","#34456E","#EF7B2C","#2D7E4E"]},"legend":null}}},
  {"transform":[{"filter":"datum.k==='num'"}],"mark":{"type":"text","fontSize":7},"encoding":{"text":{"field":"t"},"color":{"field":"r","type":"nominal","scale":{"domain":["0-C","S-C","clonal_clonal","clonal_subclonal","other","trunk","m","p"],"range":["#A5463F","#4A94D8","#EF5350","#86B23A","#1A1A1A","#34456E","#EF7B2C","#2D7E4E"]},"legend":null}}},
  {"transform":[{"filter":"datum.k==='tnum'"}],"mark":{"type":"text","fontSize":7,"angle":270},"encoding":{"text":{"field":"t"},"color":{"field":"r","type":"nominal","scale":{"domain":["0-C","S-C","clonal_clonal","clonal_subclonal","other","trunk","m","p"],"range":["#A5463F","#4A94D8","#EF5350","#86B23A","#1A1A1A","#34456E","#EF7B2C","#2D7E4E"]},"legend":null}}},
  {"transform":[{"filter":"datum.k==='samp'"}],"mark":{"type":"text","fontSize":10},"encoding":{"text":{"field":"t"},"color":{"field":"r","type":"nominal","scale":{"domain":["0-C","S-C","clonal_clonal","clonal_subclonal","other","trunk","m","p"],"range":["#A5463F","#4A94D8","#EF5350","#86B23A","#1A1A1A","#34456E","#EF7B2C","#2D7E4E"]},"legend":null}}}
 ]},
{"width":117,"height":129,"data":{"name":"pts"},"transform":[{"filter":"datum.p==='P12'"}],"mark":{"type":"circle","size":27,"opacity":1},
 "encoding":{"x":{"field":"x","type":"quantitative","scale":{"domain":[-0.05,1.05],"nice":false,"zero":false},"axis":{"values":[0,0.25,0.5,0.75,1],"format":".2f","title":null}},"y":{"field":"y","type":"quantitative","scale":{"domain":[-0.05,1.05],"nice":false,"zero":false},"axis":{"values":[0,0.25,0.5,0.75,1],"format":".2f","title":null}},"fill":{"field":"t","type":"nominal","scale":{"domain":["clonal_clonal","clonal_subclonal","subclonal_subclonal","subclonal_clonal"],"range":["#F8766D","#7CAE00","#00BFC4","#C77CFF"]},"legend":null}}},
{"width":105,"height":129,"view":{"stroke":null},"data":{"name":"tree"},"transform":[{"filter":"datum.p==='P13'"}],
 "encoding":{"x":{"field":"x","type":"quantitative","scale":{"domain":[0,105],"nice":false,"zero":false},"axis":null},"y":{"field":"y","type":"quantitative","scale":{"domain":[506,635],"nice":false,"zero":false,"reverse":true},"axis":null}},
 "layer":[
  {"transform":[{"filter":"datum.k==='br'"}],"mark":{"type":"rule","strokeWidth":2.2,"strokeCap":"butt"},"encoding":{"x2":{"field":"x2"},"y2":{"field":"y2"},"stroke":{"field":"s","type":"nominal","scale":{"domain":["P&M shared","Metastasis_private","Primary_private"],"range":["#3C8DD6","#F07A2A","#1E6B3A"]},"legend":null}}},
  {"transform":[{"filter":"datum.k==='ul'"}],"mark":{"type":"rule","strokeWidth":1.2},"encoding":{"x2":{"field":"x2"},"y2":{"field":"y2"},"color":{"field":"r","type":"nominal","scale":{"domain":["0-C","S-C","clonal_clonal","clonal_subclonal","other","trunk","m","p"],"range":["#A5463F","#4A94D8","#EF5350","#86B23A","#1A1A1A","#34456E","#EF7B2C","#2D7E4E"]},"legend":null}}},
  {"transform":[{"filter":"datum.k==='head'"}],"mark":{"type":"text","fontSize":10},"encoding":{"text":{"field":"t"},"color":{"field":"r","type":"nominal","scale":{"domain":["0-C","S-C","clonal_clonal","clonal_subclonal","other","trunk","m","p"],"range":["#A5463F","#4A94D8","#EF5350","#86B23A","#1A1A1A","#34456E","#EF7B2C","#2D7E4E"]},"legend":null}}},
  {"transform":[{"filter":"datum.k==='gene'"}],"mark":{"type":"text","fontSize":7.5,"align":"left"},"encoding":{"text":{"field":"t"},"color":{"field":"r","type":"nominal","scale":{"domain":["0-C","S-C","clonal_clonal","clonal_subclonal","other","trunk","m","p"],"range":["#A5463F","#4A94D8","#EF5350","#86B23A","#1A1A1A","#34456E","#EF7B2C","#2D7E4E"]},"legend":null}}},
  {"transform":[{"filter":"datum.k==='num'"}],"mark":{"type":"text","fontSize":7},"encoding":{"text":{"field":"t"},"color":{"field":"r","type":"nominal","scale":{"domain":["0-C","S-C","clonal_clonal","clonal_subclonal","other","trunk","m","p"],"range":["#A5463F","#4A94D8","#EF5350","#86B23A","#1A1A1A","#34456E","#EF7B2C","#2D7E4E"]},"legend":null}}},
  {"transform":[{"filter":"datum.k==='tnum'"}],"mark":{"type":"text","fontSize":7,"angle":270},"encoding":{"text":{"field":"t"},"color":{"field":"r","type":"nominal","scale":{"domain":["0-C","S-C","clonal_clonal","clonal_subclonal","other","trunk","m","p"],"range":["#A5463F","#4A94D8","#EF5350","#86B23A","#1A1A1A","#34456E","#EF7B2C","#2D7E4E"]},"legend":null}}},
  {"transform":[{"filter":"datum.k==='samp'"}],"mark":{"type":"text","fontSize":10},"encoding":{"text":{"field":"t"},"color":{"field":"r","type":"nominal","scale":{"domain":["0-C","S-C","clonal_clonal","clonal_subclonal","other","trunk","m","p"],"range":["#A5463F","#4A94D8","#EF5350","#86B23A","#1A1A1A","#34456E","#EF7B2C","#2D7E4E"]},"legend":null}}}
 ]},
{"width":117,"height":129,"data":{"name":"pts"},"transform":[{"filter":"datum.p==='P13'"}],"mark":{"type":"circle","size":27,"opacity":1},
 "encoding":{"x":{"field":"x","type":"quantitative","scale":{"domain":[-0.05,1.05],"nice":false,"zero":false},"axis":{"values":[0,0.25,0.5,0.75,1],"format":".2f","title":null}},"y":{"field":"y","type":"quantitative","scale":{"domain":[-0.05,1.05],"nice":false,"zero":false},"axis":{"values":[0,0.25,0.5,0.75,1],"format":".2f","title":null}},"fill":{"field":"t","type":"nominal","scale":{"domain":["clonal_clonal","clonal_subclonal","subclonal_subclonal","subclonal_clonal"],"range":["#F8766D","#7CAE00","#00BFC4","#C77CFF"]},"legend":null}}},
{"width":118,"height":129,"view":{"stroke":null},"data":{"name":"tree"},"transform":[{"filter":"datum.p==='P15'"}],
 "encoding":{"x":{"field":"x","type":"quantitative","scale":{"domain":[222,340],"nice":false,"zero":false},"axis":null},"y":{"field":"y","type":"quantitative","scale":{"domain":[506,635],"nice":false,"zero":false,"reverse":true},"axis":null}},
 "layer":[
  {"transform":[{"filter":"datum.k==='br'"}],"mark":{"type":"rule","strokeWidth":2.2,"strokeCap":"butt"},"encoding":{"x2":{"field":"x2"},"y2":{"field":"y2"},"stroke":{"field":"s","type":"nominal","scale":{"domain":["P&M shared","Metastasis_private","Primary_private"],"range":["#3C8DD6","#F07A2A","#1E6B3A"]},"legend":{"title":"Subgroup","orient":"none","legendX":304,"legendY":2,"symbolType":"stroke","symbolSize":576,"symbolStrokeWidth":2.5,"clipHeight":11.5,"labelFontSize":8.7,"titleFontSize":10,"titlePadding":4,"rowPadding":0,"labelOffset":7,"symbolOffset":3,"padding":0}}}},
  {"transform":[{"filter":"datum.k==='ul'"}],"mark":{"type":"rule","strokeWidth":1.2},"encoding":{"x2":{"field":"x2"},"y2":{"field":"y2"},"color":{"field":"r","type":"nominal","scale":{"domain":["0-C","S-C","clonal_clonal","clonal_subclonal","other","trunk","m","p"],"range":["#A5463F","#4A94D8","#EF5350","#86B23A","#1A1A1A","#34456E","#EF7B2C","#2D7E4E"]},"legend":null}}},
  {"transform":[{"filter":"datum.k==='head'"}],"mark":{"type":"text","fontSize":10},"encoding":{"text":{"field":"t"},"color":{"field":"r","type":"nominal","scale":{"domain":["0-C","S-C","clonal_clonal","clonal_subclonal","other","trunk","m","p"],"range":["#A5463F","#4A94D8","#EF5350","#86B23A","#1A1A1A","#34456E","#EF7B2C","#2D7E4E"]},"legend":null}}},
  {"transform":[{"filter":"datum.k==='gene'"}],"mark":{"type":"text","fontSize":7.5,"align":"left"},"encoding":{"text":{"field":"t"},"color":{"field":"r","type":"nominal","scale":{"domain":["0-C","S-C","clonal_clonal","clonal_subclonal","other","trunk","m","p"],"range":["#A5463F","#4A94D8","#EF5350","#86B23A","#1A1A1A","#34456E","#EF7B2C","#2D7E4E"]},"legend":null}}},
  {"transform":[{"filter":"datum.k==='num'"}],"mark":{"type":"text","fontSize":7},"encoding":{"text":{"field":"t"},"color":{"field":"r","type":"nominal","scale":{"domain":["0-C","S-C","clonal_clonal","clonal_subclonal","other","trunk","m","p"],"range":["#A5463F","#4A94D8","#EF5350","#86B23A","#1A1A1A","#34456E","#EF7B2C","#2D7E4E"]},"legend":null}}},
  {"transform":[{"filter":"datum.k==='tnum'"}],"mark":{"type":"text","fontSize":7,"angle":270},"encoding":{"text":{"field":"t"},"color":{"field":"r","type":"nominal","scale":{"domain":["0-C","S-C","clonal_clonal","clonal_subclonal","other","trunk","m","p"],"range":["#A5463F","#4A94D8","#EF5350","#86B23A","#1A1A1A","#34456E","#EF7B2C","#2D7E4E"]},"legend":null}}},
  {"transform":[{"filter":"datum.k==='samp'"}],"mark":{"type":"text","fontSize":10},"encoding":{"text":{"field":"t"},"color":{"field":"r","type":"nominal","scale":{"domain":["0-C","S-C","clonal_clonal","clonal_subclonal","other","trunk","m","p"],"range":["#A5463F","#4A94D8","#EF5350","#86B23A","#1A1A1A","#34456E","#EF7B2C","#2D7E4E"]},"legend":null}}}
 ]},
{"width":117,"height":129,"data":{"name":"pts"},"transform":[{"filter":"datum.p==='P15'"}],
 "encoding":{"x":{"field":"x","type":"quantitative","scale":{"domain":[-0.05,1.05],"nice":false,"zero":false},"axis":{"values":[0,0.25,0.5,0.75,1],"format":".2f","title":"Primary CCF","titleFontSize":9.5,"titlePadding":1}},"y":{"field":"y","type":"quantitative","scale":{"domain":[-0.05,1.05],"nice":false,"zero":false},"axis":{"values":[0,0.25,0.5,0.75,1],"format":".2f","title":null}}},
 "layer":[
  {"mark":{"type":"circle","size":27,"opacity":1},"encoding":{"fill":{"field":"t","type":"nominal","scale":{"domain":["clonal_clonal","clonal_subclonal","subclonal_subclonal","subclonal_clonal"],"range":["#F8766D","#7CAE00","#00BFC4","#C77CFF"]},"legend":{"title":"Clonaltype","orient":"none","legendX":186,"legendY":66,"symbolType":"circle","symbolSize":30,"symbolStrokeWidth":0,"labelFontSize":10,"titleFontSize":10,"titlePadding":2,"rowPadding":2.7,"labelOffset":4,"symbolOffset":2,"padding":0}}}},
  {"mark":{"type":"circle","opacity":0},"encoding":{"y":{"field":"y","type":"quantitative","scale":{"domain":[-0.05,1.05],"nice":false,"zero":false},"axis":{"orient":"right","labels":false,"ticks":false,"grid":false,"domain":false,"title":"Metastatic CCF","titleFontSize":12,"titlePadding":17,"titleAngle":270}}}}
 ],
 "resolve":{"axis":{"y":"independent"}}}
],
"config":{"font":"Liberation Sans","view":{"stroke":"#9A9A9A","strokeWidth":0.8},"axis":{"labelFontSize":8.5,"labelColor":"#4D4D4D","tickColor":"#555555","tickSize":3,"labelPadding":1.5,"domain":false,"gridColor":"#EBEBEB","gridWidth":0.7,"titleFontWeight":"normal","titleColor":"#000000"},"legend":{"titleFontWeight":"normal","titleColor":"#000000","labelColor":"#000000"}}
}
